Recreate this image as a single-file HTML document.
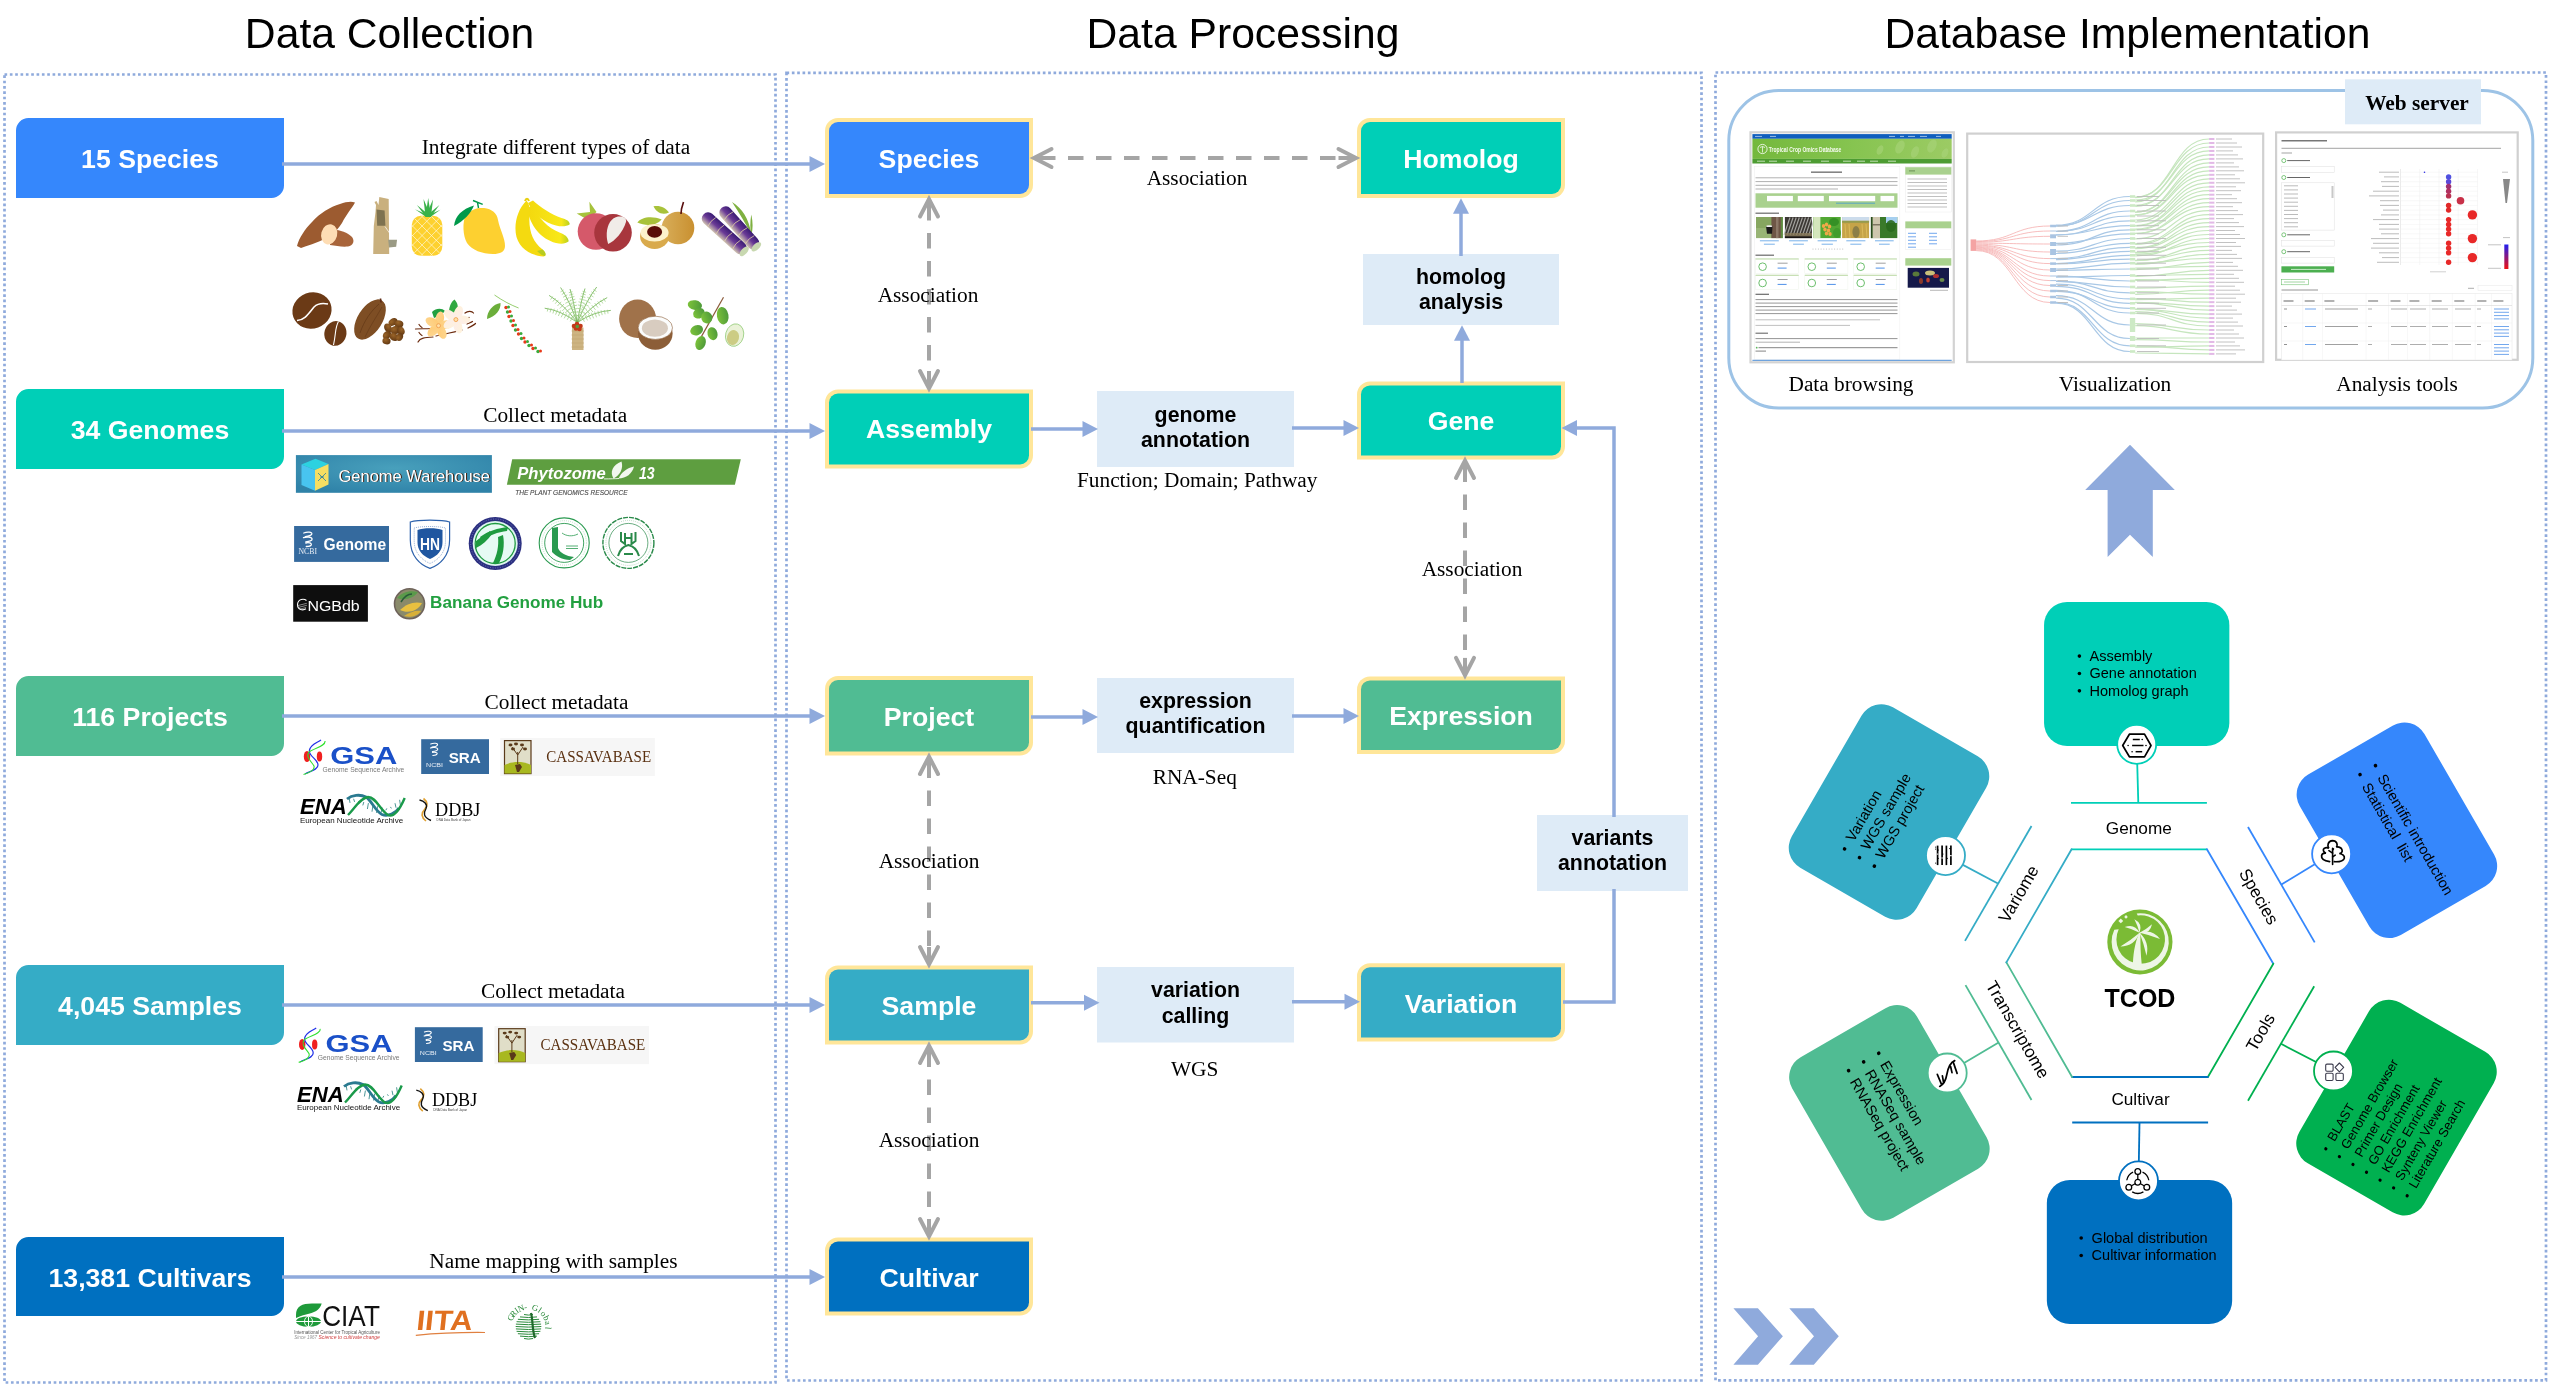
<!DOCTYPE html><html><head><meta charset="utf-8"><style>html,body{margin:0;padding:0;background:#fff;width:2554px;height:1392px;overflow:hidden;}svg{display:block;will-change:transform;}</style></head><body><svg width="2554" height="1392" viewBox="0 0 2554 1392">
<rect width="2554" height="1392" fill="#fff"/>
<text x="389.5" y="47.8" font-family="'Liberation Sans', sans-serif" font-size="42.67" font-weight="normal" fill="#000" text-anchor="middle" >Data Collection</text>
<text x="1243" y="47.8" font-family="'Liberation Sans', sans-serif" font-size="42.67" font-weight="normal" fill="#000" text-anchor="middle" >Data Processing</text>
<text x="2127.5" y="48.3" font-family="'Liberation Sans', sans-serif" font-size="42.67" font-weight="normal" fill="#000" text-anchor="middle" >Database Implementation</text>
<rect x="4.5" y="74.5" width="771.0" height="1308.0" fill="none" stroke="#8FAADC" stroke-width="2.7" stroke-dasharray="2.67 2.67"/>
<path d="M16,130.5 A12.5,12.5 0 0 1 28.5,118 L284,118 L284,185.5 A12.5,12.5 0 0 1 271.5,198 L16,198 Z" fill="#3587FC"/>
<text x="150" y="168" font-family="'Liberation Sans', sans-serif" font-size="26.67" font-weight="bold" fill="#fff" text-anchor="middle" >15 Species</text>
<line x1="282" y1="164" x2="810.5" y2="164" stroke="#8FAADC" stroke-width="3.5"/>
<polygon points="825,164 809.5,156 809.5,172" fill="#8FAADC"/>
<text x="556" y="153.5" font-family="'Liberation Serif', serif" font-size="21.33" font-weight="normal" fill="#000" text-anchor="middle" >Integrate different types of data</text>
<path d="M16,401.5 A12.5,12.5 0 0 1 28.5,389 L284,389 L284,456.5 A12.5,12.5 0 0 1 271.5,469 L16,469 Z" fill="#00CFB7"/>
<text x="150" y="438.7" font-family="'Liberation Sans', sans-serif" font-size="26.67" font-weight="bold" fill="#fff" text-anchor="middle" >34 Genomes</text>
<line x1="282" y1="431" x2="810.5" y2="431" stroke="#8FAADC" stroke-width="3.5"/>
<polygon points="825,431 809.5,423 809.5,439" fill="#8FAADC"/>
<text x="555.2" y="421.7" font-family="'Liberation Serif', serif" font-size="21.33" font-weight="normal" fill="#000" text-anchor="middle" >Collect metadata</text>
<path d="M16,688.5 A12.5,12.5 0 0 1 28.5,676 L284,676 L284,743.5 A12.5,12.5 0 0 1 271.5,756 L16,756 Z" fill="#50BC93"/>
<text x="150" y="725.8" font-family="'Liberation Sans', sans-serif" font-size="26.67" font-weight="bold" fill="#fff" text-anchor="middle" >116 Projects</text>
<line x1="282" y1="716" x2="810.5" y2="716" stroke="#8FAADC" stroke-width="3.5"/>
<polygon points="825,716 809.5,708 809.5,724" fill="#8FAADC"/>
<text x="556.5" y="708.6" font-family="'Liberation Serif', serif" font-size="21.33" font-weight="normal" fill="#000" text-anchor="middle" >Collect metadata</text>
<path d="M16,977.5 A12.5,12.5 0 0 1 28.5,965 L284,965 L284,1032.5 A12.5,12.5 0 0 1 271.5,1045 L16,1045 Z" fill="#35ACC6"/>
<text x="150" y="1014.9" font-family="'Liberation Sans', sans-serif" font-size="26.67" font-weight="bold" fill="#fff" text-anchor="middle" >4,045 Samples</text>
<line x1="282" y1="1005" x2="810.5" y2="1005" stroke="#8FAADC" stroke-width="3.5"/>
<polygon points="825,1005 809.5,997 809.5,1013" fill="#8FAADC"/>
<text x="553" y="997.6" font-family="'Liberation Serif', serif" font-size="21.33" font-weight="normal" fill="#000" text-anchor="middle" >Collect metadata</text>
<path d="M16,1249.5 A12.5,12.5 0 0 1 28.5,1237 L284,1237 L284,1303.5 A12.5,12.5 0 0 1 271.5,1316 L16,1316 Z" fill="#0070C0"/>
<text x="150" y="1287" font-family="'Liberation Sans', sans-serif" font-size="26.67" font-weight="bold" fill="#fff" text-anchor="middle" >13,381 Cultivars</text>
<line x1="282" y1="1277" x2="810.5" y2="1277" stroke="#8FAADC" stroke-width="3.5"/>
<polygon points="825,1277 809.5,1269 809.5,1285" fill="#8FAADC"/>
<text x="553.4" y="1267.6" font-family="'Liberation Serif', serif" font-size="21.33" font-weight="normal" fill="#000" text-anchor="middle" >Name mapping with samples</text>
<path d="M297,246 C299,238 305,229 312,222 C320,213 330,207 340,204 C346,202 351,201 355,202.5 C352,208 346,215 342,223 C339,228 335,232 330,236 C322,241 310,245 301,248 Z" fill="#9C5B30"/>
<path d="M330,230 C338,229 347,232 352,237 C355,241 353,246 348,246.5 C342,247 336,246 330,245 Z" fill="#A8643A"/>
<ellipse cx="329.2" cy="234.3" rx="8" ry="10.2" transform="rotate(15 329.2 234.3)" fill="#FEDDB4"/>
<path d="M373.2,254 L373.8,226 L375.5,212 L376,205 L374.5,202 L376.5,201 L378.5,205 L379.3,197 L388.7,198.9 L389.2,254 Z" fill="#C9B07E"/>
<path d="M376.5,209.5 L384.6,210.6 L385.4,225.8 L377.2,225.8 Z" fill="#7E7250"/>
<path d="M385,226.5 L389.5,233 L394,239.5" stroke="#fff" stroke-width="0.7" fill="none"/>
<path d="M388.2,239.8 L397,239.8 L396.2,246.8 L389,247.4 Z" fill="#9A9A84"/>
<rect x="411.8" y="215.8" width="30.5" height="40" rx="9" fill="#FDD12F"/>
<clipPath id="pa"><rect x="411.8" y="215.8" width="30.5" height="40" rx="9"/></clipPath>
<g clip-path="url(#pa)" stroke="#FFF8D8" stroke-width="0.7"><line x1="364.3" y1="215.8" x2="404.3" y2="255.8"/><line x1="394.3" y1="215.8" x2="354.3" y2="255.8"/><line x1="373.8" y1="215.8" x2="413.8" y2="255.8"/><line x1="403.8" y1="215.8" x2="363.8" y2="255.8"/><line x1="383.3" y1="215.8" x2="423.3" y2="255.8"/><line x1="413.3" y1="215.8" x2="373.3" y2="255.8"/><line x1="392.8" y1="215.8" x2="432.8" y2="255.8"/><line x1="422.8" y1="215.8" x2="382.8" y2="255.8"/><line x1="402.3" y1="215.8" x2="442.3" y2="255.8"/><line x1="432.3" y1="215.8" x2="392.3" y2="255.8"/><line x1="411.8" y1="215.8" x2="451.8" y2="255.8"/><line x1="441.8" y1="215.8" x2="401.8" y2="255.8"/><line x1="421.3" y1="215.8" x2="461.3" y2="255.8"/><line x1="451.3" y1="215.8" x2="411.3" y2="255.8"/><line x1="430.8" y1="215.8" x2="470.8" y2="255.8"/><line x1="460.8" y1="215.8" x2="420.8" y2="255.8"/><line x1="440.3" y1="215.8" x2="480.3" y2="255.8"/><line x1="470.3" y1="215.8" x2="430.3" y2="255.8"/><line x1="449.8" y1="215.8" x2="489.8" y2="255.8"/><line x1="479.8" y1="215.8" x2="439.8" y2="255.8"/><line x1="459.3" y1="215.8" x2="499.3" y2="255.8"/><line x1="489.3" y1="215.8" x2="449.3" y2="255.8"/><line x1="468.8" y1="215.8" x2="508.8" y2="255.8"/><line x1="498.8" y1="215.8" x2="458.8" y2="255.8"/></g>
<polygon points="425.5,216.5 415.0,209.3 431.0,216.5" fill="#3AB24A" />
<polygon points="425.5,216.5 416.9,205.0 431.0,216.5" fill="#3AB24A" />
<polygon points="425.5,216.5 423.5,198.9 431.0,216.5" fill="#3AB24A" />
<polygon points="425.5,216.5 428.2,198.0 431.0,216.5" fill="#3AB24A" />
<polygon points="425.5,216.5 433.0,199.4 431.0,216.5" fill="#3AB24A" />
<polygon points="425.5,216.5 439.4,205.0 431.0,216.5" fill="#3AB24A" />
<polygon points="425.5,216.5 440.4,209.7 431.0,216.5" fill="#3AB24A" />
<path d="M466,214.5 C472,209 478,207.5 484,208 C492,209 497,213 498,220 C500,230 505,238 505,246 C505,252 500,254 493,254 C482,254 472,250 467,243 C463,236 462,222 466,214.5 Z" fill="#FDD030"/>
<path d="M454,226 C455,216 462,209 474,205.5 C471,213 464,221 454,226 Z" fill="#00994A"/>
<path d="M473,200.5 L482.7,204.3 M477.5,202.5 L478.5,208" stroke="#00994A" stroke-width="1.4" fill="none"/>
<defs><linearGradient id="bnn" x1="0" x2="1" y1="0" y2="0"><stop offset="0" stop-color="#F3D80E"/><stop offset="0.8" stop-color="#F8E818"/><stop offset="1" stop-color="#B8D020"/></linearGradient></defs>
<path d="M528,203 C534,215 545,222.5 556,225.5 C562,227 566.5,226.5 569.8,224.2 C569.5,220.5 566,219.5 561.5,218 C551,214 541,208 533,200.5 Z" fill="url(#bnn)"/>
<path d="M527,208 C530,226 541,239 556,243 C562,244.5 566,243.5 568.7,241.2 C568.2,236.5 564.5,234.5 559.5,232.5 C548,228 539,219 533,205 Z" fill="url(#bnn)"/>
<path d="M526.5,200.5 C517,210 513.5,225 516.5,237 C520,249 531,255.5 543.5,256.5 C546.5,256 546,252.5 542,249 C533,242 528.5,231 529.5,216 C530,209 529.5,204 526.5,200.5 Z" fill="#F4DA10"/>
<path d="M537,251 C540,254 543,256 545,256 C546.5,254 545,251.5 542.5,249.5 Z" fill="#B8CC20"/>
<path d="M525,201 C526,198 528,198 529,201" stroke="#E8D010" stroke-width="2" fill="none"/>
<polygon points="576.7,213.4 590.0,212.0 589.4,201.7 596.5,211.9 588.0,220.0" fill="#A6C23C" />
<circle cx="596" cy="231.5" r="18.3" fill="#D5596A"/>
<circle cx="613" cy="232.8" r="18.8" fill="#A8363D"/>
<path d="M618,216.5 C623,216 627,218 626,222 C623,232 615,241 608.2,244 C606,238 606,228 610,222 C612,219 615,217 618,216.5 Z" fill="#F1ECE8"/>
<path d="M637.3,222.6 C641,217 652,215.5 661.7,219.5 C656,226 646,226.5 637.3,222.6 Z" fill="#A8C23A"/>
<path d="M653.5,206.3 C660,205 666,208 669,212.5 C662,216 656,212 653.5,206.3 Z" fill="#A8C23A"/>
<defs><linearGradient id="lg" x1="0" x2="1"><stop offset="0" stop-color="#D8AE5A"/><stop offset="1" stop-color="#C99030"/></linearGradient></defs>
<circle cx="678" cy="228" r="16.3" fill="url(#lg)"/>
<path d="M683.5,202 L681.5,209 L681,214" stroke="#5A1010" stroke-width="1.6" fill="none"/>
<ellipse cx="654.6" cy="236.5" rx="14.5" ry="12.5" fill="#D9AA4C"/>
<ellipse cx="654.6" cy="232.8" rx="14" ry="8.8" fill="#FCF2CC"/>
<ellipse cx="654.6" cy="231.9" rx="7.5" ry="5.8" fill="#5A0E08"/>
<defs><linearGradient id="sg" x1="0" x2="0" y1="0" y2="1"><stop offset="0" stop-color="#3A1C74"/><stop offset="0.5" stop-color="#6A3A96"/><stop offset="1" stop-color="#CFC2B0"/></linearGradient></defs>
<path d="M732,202 C742,208 749,219 751.3,233.8 C746,225 740,214 732,202 Z" fill="#7EB040"/>
<path d="M751.3,214.4 C753,222 753,229 751.3,236 C750,229 750,221 751.3,214.4 Z" fill="#7EB040"/>
<g transform="translate(703.5,214.5) rotate(42.1)"><rect x="0" y="-6.3" width="55.9" height="12.6" rx="6" fill="url(#sg)" transform="rotate(0)"/><path d="M11.2,-6 Q9.2,0 11.2,6" stroke="#E8D8A8" stroke-width="0.7" fill="none"/><path d="M22.4,-6 Q20.4,0 22.4,6" stroke="#E8D8A8" stroke-width="0.7" fill="none"/><path d="M33.6,-6 Q31.6,0 33.6,6" stroke="#E8D8A8" stroke-width="0.7" fill="none"/><path d="M44.7,-6 Q42.7,0 44.7,6" stroke="#E8D8A8" stroke-width="0.7" fill="none"/><ellipse cx="54.9" cy="0" rx="3" ry="6" fill="#C8D8B0"/></g>
<g transform="translate(721.5,208) rotate(48.1)"><rect x="0" y="-6.3" width="53.1" height="12.6" rx="6" fill="url(#sg)" transform="rotate(0)"/><path d="M10.6,-6 Q8.6,0 10.6,6" stroke="#E8D8A8" stroke-width="0.7" fill="none"/><path d="M21.2,-6 Q19.2,0 21.2,6" stroke="#E8D8A8" stroke-width="0.7" fill="none"/><path d="M31.9,-6 Q29.9,0 31.9,6" stroke="#E8D8A8" stroke-width="0.7" fill="none"/><path d="M42.5,-6 Q40.5,0 42.5,6" stroke="#E8D8A8" stroke-width="0.7" fill="none"/><ellipse cx="52.1" cy="0" rx="3" ry="6" fill="#C8D8B0"/></g>
<ellipse cx="312" cy="310.5" rx="19.8" ry="18" transform="rotate(-20 312 310.5)" fill="#6B3A16"/>
<path d="M297,320.5 C305,320 309,313 314,307 C318,303 323,303 328,304" stroke="#fff" stroke-width="1.6" fill="none"/>
<ellipse cx="335.4" cy="333.4" rx="11" ry="12.4" transform="rotate(15 335.4 333.4)" fill="#6B3A16"/>
<path d="M338.5,321.5 C335,327 336,334 333.5,345" stroke="#fff" stroke-width="1.1" fill="none"/>
<defs><radialGradient id="cb1" cx="0.35" cy="0.35" r="0.8"><stop offset="0" stop-color="#9A6428"/><stop offset="1" stop-color="#5A3210"/></radialGradient></defs>
<ellipse cx="370" cy="319.5" rx="12.3" ry="22.5" transform="rotate(32 370 319.5)" fill="#7E4E24"/>
<path d="M360,333 C364,321 371,311 379,304" stroke="#5E3414" stroke-width="0.6" fill="none"/>
<path d="M365,337 C370,326 377,316 382,307" stroke="#5E3414" stroke-width="0.5" fill="none"/>
<path d="M380.5,298.5 L381,302.5" stroke="#5E2A14" stroke-width="1.6"/>
<ellipse cx="393" cy="322" rx="4.8" ry="3.6" transform="rotate(-30 393 322)" fill="url(#cb1)"/>
<ellipse cx="399" cy="324" rx="4.4" ry="3.6" transform="rotate(20 399 324)" fill="url(#cb1)"/>
<ellipse cx="388" cy="328" rx="4.8" ry="3.6" transform="rotate(60 388 328)" fill="url(#cb1)"/>
<ellipse cx="395.5" cy="330" rx="5.1" ry="4.0" transform="rotate(-10 395.5 330)" fill="url(#cb1)"/>
<ellipse cx="401" cy="331" rx="4.2" ry="3.6" transform="rotate(70 401 331)" fill="url(#cb1)"/>
<ellipse cx="387" cy="335" rx="4.6" ry="3.6" transform="rotate(-40 387 335)" fill="url(#cb1)"/>
<ellipse cx="394" cy="337" rx="4.9" ry="3.8" transform="rotate(30 394 337)" fill="url(#cb1)"/>
<ellipse cx="399.5" cy="337" rx="4.0" ry="3.4" transform="rotate(-60 399.5 337)" fill="url(#cb1)"/>
<ellipse cx="386.5" cy="341" rx="4.1" ry="3.4" transform="rotate(10 386.5 341)" fill="url(#cb1)"/>
<g stroke="#6B2A0E" stroke-width="1.2" fill="none" stroke-linecap="round"><path d="M415.5,329 C420,328.5 425,329 431,328.5"/><path d="M419,324.5 C420,326 421,327 422,327.5"/><path d="M419,332.5 C420,334 421,335 422,335.5"/><path d="M418,342 C420,338 425,337.5 433,337"/><path d="M436,336 C445,334 455,332 462,330"/><path d="M465,313 C468,310.5 472,311 473.5,313"/><path d="M463,320 C466,319.5 468,318.5 469,317.5"/><path d="M467,324 C469,323 471,322.5 472.5,321.5"/><path d="M468,328 C471,326.5 474,325 475.5,323.5"/></g>
<defs><linearGradient id="vp1" x1="0" x2="1" y1="0" y2="1"><stop offset="0" stop-color="#FDD894"/><stop offset="1" stop-color="#FFC870"/></linearGradient><linearGradient id="vp2" x1="0" x2="1" y1="0" y2="1"><stop offset="0" stop-color="#FFF3D8"/><stop offset="1" stop-color="#FCECEC"/></linearGradient></defs>
<path d="M432,312 C436,308 442,308 445,311 C442,315 437,317 434,318 Z" fill="#22A040"/>
<path d="M449,312 C449,306 452,301 454.5,299.5 C458,303 459,308 456,313 Z" fill="#30A840"/>
<ellipse cx="439.7" cy="318.8" rx="4.3" ry="7.3" transform="rotate(10.0 439.7 318.8)" fill="url(#vp1)"/>
<ellipse cx="445.4" cy="324.7" rx="4.3" ry="7.3" transform="rotate(82.0 445.4 324.7)" fill="url(#vp1)"/>
<ellipse cx="441.6" cy="332.0" rx="4.3" ry="7.3" transform="rotate(154.0 441.6 332.0)" fill="url(#vp1)"/>
<ellipse cx="433.5" cy="330.6" rx="4.3" ry="7.3" transform="rotate(226.0 433.5 330.6)" fill="url(#vp1)"/>
<ellipse cx="432.3" cy="322.4" rx="4.3" ry="7.3" transform="rotate(298.0 432.3 322.4)" fill="url(#vp1)"/>
<circle cx="438.5" cy="325.7" r="2" fill="#FFE0A8" stroke="#F2A050" stroke-width="0.9"/>
<ellipse cx="458.3" cy="313.0" rx="4.3" ry="7.3" transform="rotate(20.0 458.3 313.0)" fill="url(#vp2)"/>
<ellipse cx="462.9" cy="319.8" rx="4.3" ry="7.3" transform="rotate(92.0 462.9 319.8)" fill="url(#vp2)"/>
<ellipse cx="457.8" cy="326.3" rx="4.3" ry="7.3" transform="rotate(164.0 457.8 326.3)" fill="url(#vp2)"/>
<ellipse cx="450.1" cy="323.5" rx="4.3" ry="7.3" transform="rotate(236.0 450.1 323.5)" fill="url(#vp2)"/>
<ellipse cx="450.4" cy="315.3" rx="4.3" ry="7.3" transform="rotate(308.0 450.4 315.3)" fill="url(#vp2)"/>
<circle cx="455.9" cy="319.6" r="2" fill="#FFE0A8" stroke="#F2A050" stroke-width="0.9"/>
<path d="M487,319 C487,311 493,304 500.5,303 C501,310 496,316 487,319 Z" fill="#6BAE3A"/>
<path d="M494.5,295 C503,301 511,305 518.6,308" stroke="#7CC04A" stroke-width="0.8" fill="none"/>
<circle cx="506" cy="307.5" r="1.7" fill="#E83A1A"/>
<circle cx="508.5" cy="307.0" r="1.5" fill="#3AAA3A"/>
<circle cx="507.5" cy="312" r="1.7" fill="#3AAA3A"/>
<circle cx="510.0" cy="311.5" r="1.5" fill="#E83A1A"/>
<circle cx="509" cy="316.5" r="1.7" fill="#E83A1A"/>
<circle cx="511.5" cy="316.0" r="1.5" fill="#3AAA3A"/>
<circle cx="511" cy="321" r="1.7" fill="#3AAA3A"/>
<circle cx="513.5" cy="320.5" r="1.5" fill="#E83A1A"/>
<circle cx="513" cy="325.5" r="1.7" fill="#E83A1A"/>
<circle cx="515.5" cy="325.0" r="1.5" fill="#3AAA3A"/>
<circle cx="515.5" cy="330" r="1.7" fill="#3AAA3A"/>
<circle cx="518.0" cy="329.5" r="1.5" fill="#E83A1A"/>
<circle cx="518.5" cy="334" r="1.7" fill="#E83A1A"/>
<circle cx="521.0" cy="333.5" r="1.5" fill="#3AAA3A"/>
<circle cx="521.5" cy="338.5" r="1.7" fill="#3AAA3A"/>
<circle cx="524.0" cy="338.0" r="1.5" fill="#E83A1A"/>
<circle cx="525" cy="342" r="1.7" fill="#E83A1A"/>
<circle cx="527.5" cy="341.5" r="1.5" fill="#3AAA3A"/>
<circle cx="529" cy="345.5" r="1.7" fill="#3AAA3A"/>
<circle cx="531.5" cy="345.0" r="1.5" fill="#E83A1A"/>
<circle cx="533" cy="348.5" r="1.7" fill="#E83A1A"/>
<circle cx="535.5" cy="348.0" r="1.5" fill="#3AAA3A"/>
<circle cx="538" cy="351.5" r="1.7" fill="#3AAA3A"/>
<circle cx="540.5" cy="351.0" r="1.5" fill="#E83A1A"/>
<rect x="572" y="327.6" width="11.5" height="22.4" fill="#CDB482"/>
<line x1="571.5" y1="331" x2="584" y2="331" stroke="#BFA670" stroke-width="0.6"/>
<line x1="571.5" y1="335" x2="584" y2="335" stroke="#BFA670" stroke-width="0.6"/>
<line x1="571.5" y1="339" x2="584" y2="339" stroke="#BFA670" stroke-width="0.6"/>
<line x1="571.5" y1="343" x2="584" y2="343" stroke="#BFA670" stroke-width="0.6"/>
<line x1="571.5" y1="347" x2="584" y2="347" stroke="#BFA670" stroke-width="0.6"/>
<path d="M577.3,322.5 Q561.0,310.4 544.7,308.2" stroke="#6AAE4A" stroke-width="0.8" fill="none"/>
<line x1="570.2" y1="321.3" x2="572.5" y2="317.6" stroke="#9ACE80" stroke-width="0.7"/>
<line x1="567.2" y1="319.8" x2="569.6" y2="315.5" stroke="#9ACE80" stroke-width="0.7"/>
<line x1="564.2" y1="318.4" x2="566.7" y2="313.5" stroke="#9ACE80" stroke-width="0.7"/>
<line x1="561.2" y1="317.3" x2="563.8" y2="311.8" stroke="#9ACE80" stroke-width="0.7"/>
<line x1="558.4" y1="316.0" x2="560.7" y2="310.4" stroke="#9ACE80" stroke-width="0.7"/>
<line x1="555.6" y1="314.7" x2="557.5" y2="309.5" stroke="#9ACE80" stroke-width="0.7"/>
<line x1="552.9" y1="313.5" x2="554.3" y2="308.7" stroke="#9ACE80" stroke-width="0.7"/>
<line x1="550.1" y1="312.4" x2="551.1" y2="308.2" stroke="#9ACE80" stroke-width="0.7"/>
<line x1="547.3" y1="311.5" x2="548.0" y2="307.8" stroke="#9ACE80" stroke-width="0.7"/>
<path d="M577.3,322.5 Q563.2,303.9 549.1,295.4" stroke="#6AAE4A" stroke-width="0.8" fill="none"/>
<line x1="570.5" y1="318.5" x2="573.8" y2="315.7" stroke="#9ACE80" stroke-width="0.7"/>
<line x1="567.8" y1="315.8" x2="571.5" y2="312.5" stroke="#9ACE80" stroke-width="0.7"/>
<line x1="565.0" y1="313.2" x2="569.1" y2="309.4" stroke="#9ACE80" stroke-width="0.7"/>
<line x1="562.3" y1="310.9" x2="566.6" y2="306.5" stroke="#9ACE80" stroke-width="0.7"/>
<line x1="559.8" y1="308.5" x2="564.0" y2="304.0" stroke="#9ACE80" stroke-width="0.7"/>
<line x1="557.5" y1="306.0" x2="561.2" y2="301.8" stroke="#9ACE80" stroke-width="0.7"/>
<line x1="555.2" y1="303.7" x2="558.3" y2="299.9" stroke="#9ACE80" stroke-width="0.7"/>
<line x1="552.9" y1="301.6" x2="555.5" y2="298.1" stroke="#9ACE80" stroke-width="0.7"/>
<line x1="550.6" y1="299.6" x2="552.7" y2="296.5" stroke="#9ACE80" stroke-width="0.7"/>
<path d="M577.3,322.5 Q569.0,300.0 560.6,287.5" stroke="#6AAE4A" stroke-width="0.8" fill="none"/>
<line x1="572.2" y1="316.5" x2="576.3" y2="314.8" stroke="#9ACE80" stroke-width="0.7"/>
<line x1="570.5" y1="312.9" x2="575.0" y2="311.0" stroke="#9ACE80" stroke-width="0.7"/>
<line x1="568.7" y1="309.6" x2="573.8" y2="307.3" stroke="#9ACE80" stroke-width="0.7"/>
<line x1="566.9" y1="306.4" x2="572.5" y2="303.8" stroke="#9ACE80" stroke-width="0.7"/>
<line x1="565.4" y1="303.3" x2="570.9" y2="300.6" stroke="#9ACE80" stroke-width="0.7"/>
<line x1="564.2" y1="300.2" x2="569.1" y2="297.6" stroke="#9ACE80" stroke-width="0.7"/>
<line x1="563.0" y1="297.3" x2="567.3" y2="294.9" stroke="#9ACE80" stroke-width="0.7"/>
<line x1="561.8" y1="294.5" x2="565.5" y2="292.3" stroke="#9ACE80" stroke-width="0.7"/>
<line x1="560.5" y1="291.9" x2="563.7" y2="289.9" stroke="#9ACE80" stroke-width="0.7"/>
<path d="M577.3,322.5 Q587.0,299.8 596.7,287" stroke="#6AAE4A" stroke-width="0.8" fill="none"/>
<line x1="578.8" y1="314.6" x2="582.8" y2="316.5" stroke="#9ACE80" stroke-width="0.7"/>
<line x1="580.4" y1="310.8" x2="584.8" y2="312.9" stroke="#9ACE80" stroke-width="0.7"/>
<line x1="581.9" y1="307.0" x2="586.8" y2="309.5" stroke="#9ACE80" stroke-width="0.7"/>
<line x1="583.4" y1="303.4" x2="588.8" y2="306.3" stroke="#9ACE80" stroke-width="0.7"/>
<line x1="585.2" y1="300.2" x2="590.5" y2="303.2" stroke="#9ACE80" stroke-width="0.7"/>
<line x1="587.3" y1="297.2" x2="592.0" y2="300.0" stroke="#9ACE80" stroke-width="0.7"/>
<line x1="589.3" y1="294.4" x2="593.5" y2="297.0" stroke="#9ACE80" stroke-width="0.7"/>
<line x1="591.4" y1="291.8" x2="595.0" y2="294.2" stroke="#9ACE80" stroke-width="0.7"/>
<line x1="593.4" y1="289.3" x2="596.5" y2="291.5" stroke="#9ACE80" stroke-width="0.7"/>
<path d="M577.3,322.5 Q592.2,305.1 607.2,297.6" stroke="#6AAE4A" stroke-width="0.8" fill="none"/>
<line x1="581.2" y1="316.0" x2="584.3" y2="319.0" stroke="#9ACE80" stroke-width="0.7"/>
<line x1="583.7" y1="313.0" x2="587.2" y2="316.5" stroke="#9ACE80" stroke-width="0.7"/>
<line x1="586.3" y1="310.1" x2="590.0" y2="314.2" stroke="#9ACE80" stroke-width="0.7"/>
<line x1="588.9" y1="307.4" x2="592.9" y2="312.0" stroke="#9ACE80" stroke-width="0.7"/>
<line x1="591.7" y1="305.1" x2="595.5" y2="309.8" stroke="#9ACE80" stroke-width="0.7"/>
<line x1="594.7" y1="303.1" x2="598.0" y2="307.6" stroke="#9ACE80" stroke-width="0.7"/>
<line x1="597.7" y1="301.4" x2="600.4" y2="305.5" stroke="#9ACE80" stroke-width="0.7"/>
<line x1="600.6" y1="299.8" x2="602.9" y2="303.5" stroke="#9ACE80" stroke-width="0.7"/>
<line x1="603.6" y1="298.4" x2="605.4" y2="301.7" stroke="#9ACE80" stroke-width="0.7"/>
<path d="M577.3,322.5 Q594.0,311.4 610.8,310.4" stroke="#6AAE4A" stroke-width="0.8" fill="none"/>
<line x1="582.3" y1="317.9" x2="584.4" y2="321.7" stroke="#9ACE80" stroke-width="0.7"/>
<line x1="585.3" y1="316.0" x2="587.5" y2="320.4" stroke="#9ACE80" stroke-width="0.7"/>
<line x1="588.4" y1="314.3" x2="590.6" y2="319.3" stroke="#9ACE80" stroke-width="0.7"/>
<line x1="591.4" y1="312.7" x2="593.6" y2="318.4" stroke="#9ACE80" stroke-width="0.7"/>
<line x1="594.6" y1="311.5" x2="596.5" y2="317.3" stroke="#9ACE80" stroke-width="0.7"/>
<line x1="597.9" y1="310.8" x2="599.4" y2="316.1" stroke="#9ACE80" stroke-width="0.7"/>
<line x1="601.1" y1="310.3" x2="602.2" y2="315.1" stroke="#9ACE80" stroke-width="0.7"/>
<line x1="604.3" y1="310.0" x2="605.1" y2="314.3" stroke="#9ACE80" stroke-width="0.7"/>
<line x1="607.5" y1="309.8" x2="608.0" y2="313.6" stroke="#9ACE80" stroke-width="0.7"/>
<path d="M577.3,322.5 Q573.6,300.8 570,289" stroke="#6AAE4A" stroke-width="0.8" fill="none"/>
<line x1="573.8" y1="316.3" x2="578.1" y2="315.5" stroke="#9ACE80" stroke-width="0.7"/>
<line x1="572.9" y1="312.8" x2="577.7" y2="311.9" stroke="#9ACE80" stroke-width="0.7"/>
<line x1="571.9" y1="309.6" x2="577.4" y2="308.5" stroke="#9ACE80" stroke-width="0.7"/>
<line x1="571.0" y1="306.4" x2="577.0" y2="305.2" stroke="#9ACE80" stroke-width="0.7"/>
<line x1="570.3" y1="303.4" x2="576.3" y2="302.1" stroke="#9ACE80" stroke-width="0.7"/>
<line x1="570.0" y1="300.5" x2="575.3" y2="299.2" stroke="#9ACE80" stroke-width="0.7"/>
<line x1="569.6" y1="297.8" x2="574.4" y2="296.5" stroke="#9ACE80" stroke-width="0.7"/>
<line x1="569.2" y1="295.2" x2="573.4" y2="294.0" stroke="#9ACE80" stroke-width="0.7"/>
<line x1="568.8" y1="292.7" x2="572.5" y2="291.7" stroke="#9ACE80" stroke-width="0.7"/>
<path d="M577.3,322.5 Q581.1,300.5 585,288.5" stroke="#6AAE4A" stroke-width="0.8" fill="none"/>
<line x1="576.6" y1="315.4" x2="580.8" y2="316.2" stroke="#9ACE80" stroke-width="0.7"/>
<line x1="577.0" y1="311.8" x2="581.8" y2="312.7" stroke="#9ACE80" stroke-width="0.7"/>
<line x1="577.4" y1="308.3" x2="582.8" y2="309.4" stroke="#9ACE80" stroke-width="0.7"/>
<line x1="577.8" y1="304.9" x2="583.8" y2="306.2" stroke="#9ACE80" stroke-width="0.7"/>
<line x1="578.5" y1="301.8" x2="584.5" y2="303.2" stroke="#9ACE80" stroke-width="0.7"/>
<line x1="579.5" y1="298.9" x2="584.9" y2="300.2" stroke="#9ACE80" stroke-width="0.7"/>
<line x1="580.5" y1="296.2" x2="585.3" y2="297.4" stroke="#9ACE80" stroke-width="0.7"/>
<line x1="581.5" y1="293.6" x2="585.7" y2="294.8" stroke="#9ACE80" stroke-width="0.7"/>
<line x1="582.5" y1="291.2" x2="586.1" y2="292.3" stroke="#9ACE80" stroke-width="0.7"/>
<circle cx="574" cy="326" r="2.3" fill="#C23A18"/>
<circle cx="577" cy="324" r="2.3" fill="#C23A18"/>
<circle cx="580.5" cy="326" r="2.3" fill="#C23A18"/>
<circle cx="576" cy="328.5" r="2.3" fill="#C23A18"/>
<circle cx="579.5" cy="329" r="2.3" fill="#C23A18"/>
<circle cx="577.3" cy="326.5" r="1.8" fill="#5A9A3A"/>
<ellipse cx="637.6" cy="318.8" rx="18.5" ry="19.2" fill="#A0724A"/>
<ellipse cx="655.3" cy="333.5" rx="17.3" ry="16.3" fill="#8C5E38"/>
<ellipse cx="655.3" cy="327.8" rx="17.2" ry="11.6" fill="#FBFCFC" stroke="#8C5E38" stroke-width="0.6"/>
<ellipse cx="654.9" cy="328.2" rx="13" ry="8.6" fill="#D8CCC0"/>
<path d="M723.5,297.2 L701.5,336.4" stroke="#8B5A3A" stroke-width="1.2"/>
<defs><linearGradient id="lf" x1="0" x2="1"><stop offset="0" stop-color="#7CC23A"/><stop offset="1" stop-color="#4E9A3A"/></linearGradient></defs>
<ellipse cx="694.9" cy="305.1" rx="7.2" ry="4.8" transform="rotate(10 694.9 305.1)" fill="url(#lf)"/>
<ellipse cx="698.9" cy="313.3" rx="6" ry="5" transform="rotate(-30 698.9 313.3)" fill="url(#lf)"/>
<ellipse cx="706.8" cy="317.5" rx="5.5" ry="6" transform="rotate(-20 706.8 317.5)" fill="url(#lf)"/>
<ellipse cx="722.7" cy="315.7" rx="5.8" ry="8.8" transform="rotate(-10 722.7 315.7)" fill="url(#lf)"/>
<ellipse cx="696.7" cy="330.2" rx="6.5" ry="5" transform="rotate(-20 696.7 330.2)" fill="url(#lf)"/>
<ellipse cx="712.5" cy="333.7" rx="5" ry="6.6" transform="rotate(-15 712.5 333.7)" fill="url(#lf)"/>
<ellipse cx="700.6" cy="343" rx="5" ry="7.2" transform="rotate(20 700.6 343)" fill="url(#lf)"/>
<ellipse cx="734.6" cy="335.1" rx="9" ry="11.4" transform="rotate(15 734.6 335.1)" fill="#EAF2D8" stroke="#8CC870" stroke-width="0.7"/>
<ellipse cx="733" cy="337.5" rx="6" ry="7.5" transform="rotate(15 733 337.5)" fill="#CCCC84"/>
<defs><radialGradient id="gw" cx="0.5" cy="0.35" r="0.7"><stop offset="0" stop-color="#48A0BC"/><stop offset="1" stop-color="#2F82A8"/></radialGradient></defs>
<rect x="295.9" y="455.1" width="196" height="37.7" fill="url(#gw)"/>
<polygon points="301.5,464.5 315.5,458.8 328.5,464.0 315.0,470.0" fill="#2CD2E0" />
<polygon points="301.5,464.5 315.0,470.0 315.0,490.8 301.5,485.0" fill="#48C4F0" />
<polygon points="315.0,470.0 328.5,464.0 328.5,484.5 315.0,490.8" fill="#F6DE62" />
<path d="M318,473 L326,481 M326,473 L318,481 M320,477 L324,477" stroke="#2A7FA0" stroke-width="0.8"/>
<text x="339.5" y="482.4" font-family="'Liberation Sans', sans-serif" font-size="16.4" font-weight="normal" font-style="normal" fill="#402010" text-anchor="start" textLength="151.5" lengthAdjust="spacingAndGlyphs" >Genome Warehouse</text>
<text x="338.5" y="481.7" font-family="'Liberation Sans', sans-serif" font-size="16.4" font-weight="normal" font-style="normal" fill="#FFFFFF" text-anchor="start" textLength="151.5" lengthAdjust="spacingAndGlyphs" >Genome Warehouse</text>
<polygon points="512.2,459.3 740.8,459.3 734.9,484.7 506.9,484.7" fill="#5E9E40" />
<text x="517.3" y="478.9" font-family="'Liberation Sans', sans-serif" font-size="17" font-weight="bold" font-style="italic" fill="#fff" text-anchor="start" textLength="88.5" lengthAdjust="spacingAndGlyphs" >Phytozome</text>
<path d="M613.5,478.5 C609.5,472 612.5,465 621.5,461.5 C623.5,468 620.5,475 613.5,478.5 Z" fill="#F2F7EE"/>
<path d="M618.5,478.5 C621.5,472 627,468 634,466.5 C632.5,473.5 626,478.5 618.5,478.5 Z" fill="#F2F7EE"/>
<path d="M604,478.9 C610,478.9 615,478.7 619,478.5" stroke="#F2F7EE" stroke-width="0.9" fill="none"/>
<text x="639" y="479" font-family="'Liberation Sans', sans-serif" font-size="17" font-weight="bold" font-style="italic" fill="#fff" text-anchor="start" textLength="15.7" lengthAdjust="spacingAndGlyphs" >13</text>
<text x="515.2" y="494.5" font-family="'Liberation Sans', sans-serif" font-size="7.6" font-weight="normal" font-style="italic" fill="#505050" text-anchor="start" textLength="112.5" lengthAdjust="spacingAndGlyphs" stroke="#505050" stroke-width="0.15">THE PLANT GENOMICS RESOURCE</text>
<rect x="294.1" y="526" width="94.9" height="35.9" fill="#356A9E"/>
<g transform="translate(307.3,541.5) scale(1.0)" stroke="#fff" stroke-width="1.3" fill="none" stroke-linecap="round"><path d="M-3.5,-8.5 C0,-10 5,-9.5 4.5,-7.5 C4,-6 1,-5.2 -2,-4.8"/><path d="M-3.8,-3.8 C-1,-5 4.5,-4.5 4.8,-2.5 C5,-0.8 2,0 -1.5,0.3"/><path d="M-1.5,1.5 C1,0.8 4.5,1.5 4,3.2 C3.5,4.6 1,5 -1,5"/></g>
<text x="298.5" y="554.3" font-family="'Liberation Serif', serif" font-size="7.6" font-weight="normal" font-style="normal" fill="#E8EEF6" text-anchor="start" textLength="18.5" lengthAdjust="spacingAndGlyphs" >NCBI</text>
<text x="323.6" y="549.8" font-family="'Liberation Sans', sans-serif" font-size="15.6" font-weight="bold" font-style="normal" fill="#fff" text-anchor="start" textLength="62.5" lengthAdjust="spacingAndGlyphs" >Genome</text>
<path d="M410.3,522 C418,519.5 442,519.5 449.6,522 L449.6,540 C449.6,556 440,565 430,568.4 C420,565 410.3,556 410.3,540 Z" fill="#fff" stroke="#2D62AC" stroke-width="1.2"/>
<path d="M414.2,528 C421,526 439,526 445.5,528 L445.5,541 C445.5,553 438,560 430,563.5 C422,560 414.2,553 414.2,541 Z" fill="none" stroke="#2D62AC" stroke-width="0.5" stroke-dasharray="1 1"/>
<path d="M417.5,530 C423,527.5 437,527.5 442.5,530 L442.5,542 C442.5,551 437,556 430,559 C423,556 417.5,551 417.5,542 Z" fill="#1F56A0"/>
<text x="430" y="549.5" font-family="'Liberation Sans', sans-serif" font-size="16.5" font-weight="bold" font-style="normal" fill="#fff" text-anchor="middle" textLength="20" lengthAdjust="spacingAndGlyphs" >HN</text>
<circle cx="495.2" cy="543.5" r="26.5" fill="#2B2F80"/>
<circle cx="495.2" cy="543.5" r="22.5" fill="#DDF6EE"/>
<circle cx="495.2" cy="543.5" r="20" fill="#E6FAF4" stroke="#1E9A40" stroke-width="1.3"/>
<path d="M480,537 C488,531 498,528 508,527 L507,531 C498,532 489,535 482,541 Z" fill="#1E9A40"/>
<path d="M498,537 L503,535 C505,545 503,556 499,563 L493,563 C497,555 499,546 498,537 Z" fill="#1E9A40"/>
<path d="M476,541 C480,538 486,534 490,531 L492,534 C488,540 482,545 476,548 Z" fill="#1E9A40"/>
<circle cx="495.2" cy="543.5" r="24.5" fill="none" stroke="#9AA0D8" stroke-width="0.6" stroke-dasharray="1 1.5"/>
<circle cx="564.2" cy="542.9" r="25" fill="#fff" stroke="#2A9A50" stroke-width="1.1"/>
<circle cx="564.2" cy="542.9" r="19.5" fill="none" stroke="#2A9A50" stroke-width="0.9"/>
<circle cx="564.2" cy="542.9" r="22.2" fill="none" stroke="#7CC890" stroke-width="0.6" stroke-dasharray="0.8 1.2"/>
<path d="M552,528 L558,527 L558,548 C560,553 566,556 574,557 L570,560 C562,560 556,556 552,552 Z" fill="#2A9A50"/>
<path d="M562,533 C566,536 572,537 578,534 M566,546 L578,546 M566,548.5 L578,548.5" stroke="#2A9A50" stroke-width="0.8" fill="none"/>
<circle cx="628.4" cy="542.9" r="25.5" fill="#fff" stroke="#2A8A4A" stroke-width="1.4" stroke-dasharray="5 1"/>
<circle cx="628.4" cy="542.9" r="19.5" fill="none" stroke="#2A8A4A" stroke-width="0.7"/>
<circle cx="628.4" cy="542.9" r="22.5" fill="none" stroke="#7AB88A" stroke-width="0.6" stroke-dasharray="0.8 1.2"/>
<path d="M621,532 L621,541 L625,544 L625,533 M631.5,533 L631.5,544 L635.5,541 L635.5,532 M625,538 L631.5,538 M618,556 C620,549 624,546 628.4,545 C633,546 637,549 639,556 M624,554 L633,554" stroke="#2A8A4A" stroke-width="2" fill="none"/>
<rect x="293.2" y="585.1" width="74.7" height="36.6" fill="#0E0E0E"/>
<path d="M306.5,600.5 C304,598.5 298,598.5 297.5,604.5 C297.5,610 303,610.8 306,608.8" stroke="#fff" stroke-width="1.1" fill="none"/>
<clipPath id="cng"><circle cx="302" cy="604.8" r="5"/></clipPath>
<g clip-path="url(#cng)" stroke="#ddd" stroke-width="0.6"><line x1="296" y1="606" x2="308" y2="603"/><line x1="296" y1="608" x2="308" y2="605"/><line x1="296" y1="610" x2="308" y2="607"/></g>
<text x="307.5" y="611" font-family="'Liberation Sans', sans-serif" font-size="14.5" font-weight="normal" font-style="normal" fill="#fff" text-anchor="start" textLength="52.2" lengthAdjust="spacingAndGlyphs" font-weight="normal">NGBdb</text>
<circle cx="409.5" cy="603.8" r="15.8" fill="#6E625A"/>
<circle cx="409.5" cy="603.8" r="14.2" fill="#8A8A6A"/>
<path d="M397,598 C402,592 410,590 418,592 C414,598 405,601 397,598 Z" fill="#5A9A4A"/>
<path d="M400,610 C406,604 414,601 422,603 C418,611 408,614 400,610 Z" fill="#E8C040"/>
<path d="M404,616 C410,612 416,610 421,611 C418,616 410,618 404,616 Z" fill="#D8B038"/>
<path d="M401,602 C404,597 408,594 412,594" stroke="#2A5A3A" stroke-width="1.5" fill="none"/>
<text x="430.1" y="608.4" font-family="'Liberation Sans', sans-serif" font-size="17" font-weight="bold" font-style="normal" fill="#22A040" text-anchor="start" textLength="173.2" lengthAdjust="spacingAndGlyphs" >Banana Genome Hub</text>
<g transform="translate(0.00,0.00)"><ellipse cx="307" cy="756.5" rx="3.2" ry="5.5" fill="#F02020"/><ellipse cx="319.5" cy="756.5" rx="2.7" ry="5" fill="#F02020"/><path d="M321,740 C317,743 311,744 309.5,750 C308,756 318,759 318,765 C318,770 310,771 305,774" stroke="#2030E8" stroke-width="1.2" fill="none"/><path d="M325,741 C326,746 314,748 309,752 C305,757 312,762 314,766 C315,770 309,773 303.5,774.5" stroke="#30E030" stroke-width="1.1" fill="none"/><text x="330.3" y="763.7" font-family="'Liberation Sans', sans-serif" font-size="24.5" font-weight="bold" font-style="normal" fill="#1A50C8" text-anchor="start" textLength="67" lengthAdjust="spacingAndGlyphs" >GSA</text><text x="322.5" y="771.9" font-family="'Liberation Sans', sans-serif" font-size="7" font-weight="normal" font-style="normal" fill="#7A7A7A" text-anchor="start" textLength="81.8" lengthAdjust="spacingAndGlyphs" >Genome Sequence Archive</text></g>
<rect x="421.2" y="739.2" width="67.8" height="34.8" fill="#356A9E"/><g transform="translate(433.7,751.2) scale(0.85)" stroke="#fff" stroke-width="1.3" fill="none" stroke-linecap="round"><path d="M-3.5,-8.5 C0,-10 5,-9.5 4.5,-7.5 C4,-6 1,-5.2 -2,-4.8"/><path d="M-3.8,-3.8 C-1,-5 4.5,-4.5 4.8,-2.5 C5,-0.8 2,0 -1.5,0.3"/><path d="M-1.5,1.5 C1,0.8 4.5,1.5 4,3.2 C3.5,4.6 1,5 -1,5"/></g><text x="426.09999999999997" y="766.6" font-family="'Liberation Sans', sans-serif" font-size="5.6" font-weight="normal" font-style="normal" fill="#E8EEF6" text-anchor="start" textLength="16.9" lengthAdjust="spacingAndGlyphs" >NCBI</text><text x="448.7" y="762.5" font-family="'Liberation Sans', sans-serif" font-size="15.5" font-weight="bold" font-style="normal" fill="#fff" text-anchor="start" textLength="32.1" lengthAdjust="spacingAndGlyphs" >SRA</text>
<g transform="translate(0.00,0.00)"><rect x="500.3" y="738" width="154.5" height="38" fill="#F6F6F6"/><rect x="504.5" y="740.6" width="26.5" height="33" fill="#E0DEC8" stroke="#5A3A1A" stroke-width="1.2"/><path d="M504.5,765 C512,761 524,761 531,765 L531,773.6 L504.5,773.6 Z" fill="#A8B820"/><path d="M515,765 L520,764 L522,767 L519,772 L517,772 Z" fill="#5A3A1A"/><path d="M517.7,764 L517.7,752 M517.7,755 L512,747 M517.7,755 L523,747" stroke="#5A3A1A" stroke-width="1" fill="none"/><ellipse cx="510.5" cy="745" rx="2" ry="1.4" fill="#5A3A1A"/><ellipse cx="513" cy="749" rx="2" ry="1.4" fill="#5A3A1A"/><ellipse cx="522" cy="745" rx="2" ry="1.4" fill="#5A3A1A"/><ellipse cx="525" cy="749" rx="2" ry="1.4" fill="#5A3A1A"/><ellipse cx="516" cy="744" rx="2" ry="1.4" fill="#5A3A1A"/><text x="546.3" y="762.3" font-family="'Liberation Serif', serif" font-size="16.3" font-weight="normal" font-style="normal" fill="#5A3010" text-anchor="start" textLength="104.8" lengthAdjust="spacingAndGlyphs" >CASSAVABASE</text></g>
<g transform="translate(0.00,0.00)"><text x="299.9" y="814.3" font-family="'Liberation Sans', sans-serif" font-size="22.5" font-weight="bold" font-style="italic" fill="#000" text-anchor="start" textLength="46.8" lengthAdjust="spacingAndGlyphs" >ENA</text><line x1="349.0" y1="797.2" x2="350.0" y2="802.9" stroke="#3A8A8A" stroke-width="0.9"/><line x1="353.6" y1="798.8" x2="354.6" y2="801.9" stroke="#3A8A8A" stroke-width="0.9"/><line x1="358.2" y1="801.8" x2="359.2" y2="801.5" stroke="#3A8A8A" stroke-width="0.9"/><line x1="362.8" y1="805.4" x2="363.8" y2="802.0" stroke="#3A8A8A" stroke-width="0.9"/><line x1="367.4" y1="809.0" x2="368.4" y2="803.1" stroke="#3A8A8A" stroke-width="0.9"/><line x1="372.0" y1="811.7" x2="373.0" y2="804.6" stroke="#3A8A8A" stroke-width="0.9"/><line x1="376.6" y1="813.0" x2="377.6" y2="806.2" stroke="#3A8A8A" stroke-width="0.9"/><line x1="381.2" y1="812.4" x2="382.2" y2="807.6" stroke="#3A8A8A" stroke-width="0.9"/><line x1="385.8" y1="810.3" x2="386.8" y2="808.4" stroke="#3A8A8A" stroke-width="0.9"/><line x1="390.4" y1="806.9" x2="391.4" y2="808.4" stroke="#3A8A8A" stroke-width="0.9"/><line x1="395.0" y1="803.2" x2="396.0" y2="807.7" stroke="#3A8A8A" stroke-width="0.9"/><line x1="399.6" y1="799.8" x2="400.6" y2="806.4" stroke="#3A8A8A" stroke-width="0.9"/><path d="M347,799 C352,795 360,794 366,797 C372,801 375,811 382,814.5 C388,817 396,813 399,808" stroke="#2A7A90" stroke-width="2.8" fill="none"/><path d="M348,815 C355,808 360,798 368,797 C376,797 380,810 388,815 C394,818 400,809 404.7,798" stroke="#1A9A4A" stroke-width="2.4" fill="none"/><text x="299.9" y="822.9" font-family="'Liberation Sans', sans-serif" font-size="7.4" font-weight="normal" font-style="normal" fill="#111" text-anchor="start" textLength="103.2" lengthAdjust="spacingAndGlyphs" >European Nucleotide Archive</text></g>
<g transform="translate(0.00,0.00)"><path d="M423.5,798.5 C428,802 428,806 424.5,809.5 C421,813 421,817 426,821" stroke="#E0A030" stroke-width="1.6" fill="none"/><path d="M419.5,800 C424,801 428,804 426,808.5 C423.5,813 423,817 431,820.5" stroke="#111" stroke-width="1.4" fill="none"/><text x="435.1" y="815.5" font-family="'Liberation Serif', serif" font-size="18.5" font-weight="normal" font-style="normal" fill="#000" text-anchor="start" textLength="45.3" lengthAdjust="spacingAndGlyphs" >DDBJ</text><text x="436.5" y="820.6" font-family="'Liberation Sans', sans-serif" font-size="3" font-weight="normal" font-style="normal" fill="#444" text-anchor="start" textLength="34" lengthAdjust="spacingAndGlyphs" >DNA Data Bank of Japan</text></g>
<g transform="translate(-4.80,287.90)"><ellipse cx="307" cy="756.5" rx="3.2" ry="5.5" fill="#F02020"/><ellipse cx="319.5" cy="756.5" rx="2.7" ry="5" fill="#F02020"/><path d="M321,740 C317,743 311,744 309.5,750 C308,756 318,759 318,765 C318,770 310,771 305,774" stroke="#2030E8" stroke-width="1.2" fill="none"/><path d="M325,741 C326,746 314,748 309,752 C305,757 312,762 314,766 C315,770 309,773 303.5,774.5" stroke="#30E030" stroke-width="1.1" fill="none"/><text x="330.3" y="763.7" font-family="'Liberation Sans', sans-serif" font-size="24.5" font-weight="bold" font-style="normal" fill="#1A50C8" text-anchor="start" textLength="67" lengthAdjust="spacingAndGlyphs" >GSA</text><text x="322.5" y="771.9" font-family="'Liberation Sans', sans-serif" font-size="7" font-weight="normal" font-style="normal" fill="#7A7A7A" text-anchor="start" textLength="81.8" lengthAdjust="spacingAndGlyphs" >Genome Sequence Archive</text></g>
<rect x="414.9" y="1027.2" width="67.8" height="34.8" fill="#356A9E"/><g transform="translate(427.4,1039.2) scale(0.85)" stroke="#fff" stroke-width="1.3" fill="none" stroke-linecap="round"><path d="M-3.5,-8.5 C0,-10 5,-9.5 4.5,-7.5 C4,-6 1,-5.2 -2,-4.8"/><path d="M-3.8,-3.8 C-1,-5 4.5,-4.5 4.8,-2.5 C5,-0.8 2,0 -1.5,0.3"/><path d="M-1.5,1.5 C1,0.8 4.5,1.5 4,3.2 C3.5,4.6 1,5 -1,5"/></g><text x="419.79999999999995" y="1054.6000000000001" font-family="'Liberation Sans', sans-serif" font-size="5.6" font-weight="normal" font-style="normal" fill="#E8EEF6" text-anchor="start" textLength="16.9" lengthAdjust="spacingAndGlyphs" >NCBI</text><text x="442.4" y="1050.5" font-family="'Liberation Sans', sans-serif" font-size="15.5" font-weight="bold" font-style="normal" fill="#fff" text-anchor="start" textLength="32.1" lengthAdjust="spacingAndGlyphs" >SRA</text>
<g transform="translate(-5.80,288.10)"><rect x="500.3" y="738" width="154.5" height="38" fill="#F6F6F6"/><rect x="504.5" y="740.6" width="26.5" height="33" fill="#E0DEC8" stroke="#5A3A1A" stroke-width="1.2"/><path d="M504.5,765 C512,761 524,761 531,765 L531,773.6 L504.5,773.6 Z" fill="#A8B820"/><path d="M515,765 L520,764 L522,767 L519,772 L517,772 Z" fill="#5A3A1A"/><path d="M517.7,764 L517.7,752 M517.7,755 L512,747 M517.7,755 L523,747" stroke="#5A3A1A" stroke-width="1" fill="none"/><ellipse cx="510.5" cy="745" rx="2" ry="1.4" fill="#5A3A1A"/><ellipse cx="513" cy="749" rx="2" ry="1.4" fill="#5A3A1A"/><ellipse cx="522" cy="745" rx="2" ry="1.4" fill="#5A3A1A"/><ellipse cx="525" cy="749" rx="2" ry="1.4" fill="#5A3A1A"/><ellipse cx="516" cy="744" rx="2" ry="1.4" fill="#5A3A1A"/><text x="546.3" y="762.3" font-family="'Liberation Serif', serif" font-size="16.3" font-weight="normal" font-style="normal" fill="#5A3010" text-anchor="start" textLength="104.8" lengthAdjust="spacingAndGlyphs" >CASSAVABASE</text></g>
<g transform="translate(-3.00,287.50)"><text x="299.9" y="814.3" font-family="'Liberation Sans', sans-serif" font-size="22.5" font-weight="bold" font-style="italic" fill="#000" text-anchor="start" textLength="46.8" lengthAdjust="spacingAndGlyphs" >ENA</text><line x1="349.0" y1="797.2" x2="350.0" y2="802.9" stroke="#3A8A8A" stroke-width="0.9"/><line x1="353.6" y1="798.8" x2="354.6" y2="801.9" stroke="#3A8A8A" stroke-width="0.9"/><line x1="358.2" y1="801.8" x2="359.2" y2="801.5" stroke="#3A8A8A" stroke-width="0.9"/><line x1="362.8" y1="805.4" x2="363.8" y2="802.0" stroke="#3A8A8A" stroke-width="0.9"/><line x1="367.4" y1="809.0" x2="368.4" y2="803.1" stroke="#3A8A8A" stroke-width="0.9"/><line x1="372.0" y1="811.7" x2="373.0" y2="804.6" stroke="#3A8A8A" stroke-width="0.9"/><line x1="376.6" y1="813.0" x2="377.6" y2="806.2" stroke="#3A8A8A" stroke-width="0.9"/><line x1="381.2" y1="812.4" x2="382.2" y2="807.6" stroke="#3A8A8A" stroke-width="0.9"/><line x1="385.8" y1="810.3" x2="386.8" y2="808.4" stroke="#3A8A8A" stroke-width="0.9"/><line x1="390.4" y1="806.9" x2="391.4" y2="808.4" stroke="#3A8A8A" stroke-width="0.9"/><line x1="395.0" y1="803.2" x2="396.0" y2="807.7" stroke="#3A8A8A" stroke-width="0.9"/><line x1="399.6" y1="799.8" x2="400.6" y2="806.4" stroke="#3A8A8A" stroke-width="0.9"/><path d="M347,799 C352,795 360,794 366,797 C372,801 375,811 382,814.5 C388,817 396,813 399,808" stroke="#2A7A90" stroke-width="2.8" fill="none"/><path d="M348,815 C355,808 360,798 368,797 C376,797 380,810 388,815 C394,818 400,809 404.7,798" stroke="#1A9A4A" stroke-width="2.4" fill="none"/><text x="299.9" y="822.9" font-family="'Liberation Sans', sans-serif" font-size="7.4" font-weight="normal" font-style="normal" fill="#111" text-anchor="start" textLength="103.2" lengthAdjust="spacingAndGlyphs" >European Nucleotide Archive</text></g>
<g transform="translate(-3.20,290.10)"><path d="M423.5,798.5 C428,802 428,806 424.5,809.5 C421,813 421,817 426,821" stroke="#E0A030" stroke-width="1.6" fill="none"/><path d="M419.5,800 C424,801 428,804 426,808.5 C423.5,813 423,817 431,820.5" stroke="#111" stroke-width="1.4" fill="none"/><text x="435.1" y="815.5" font-family="'Liberation Serif', serif" font-size="18.5" font-weight="normal" font-style="normal" fill="#000" text-anchor="start" textLength="45.3" lengthAdjust="spacingAndGlyphs" >DDBJ</text><text x="436.5" y="820.6" font-family="'Liberation Sans', sans-serif" font-size="3" font-weight="normal" font-style="normal" fill="#444" text-anchor="start" textLength="34" lengthAdjust="spacingAndGlyphs" >DNA Data Bank of Japan</text></g>
<path d="M296,1315 C296,1306 302,1303.5 312,1303.5 L321.7,1303.5 C320,1310 314,1313 306,1314.5 C302,1315.5 298,1317 296,1318 Z" fill="#1E9A3A"/>
<ellipse cx="308.5" cy="1321.5" rx="12.5" ry="5.2" fill="#1E9A3A"/>
<path d="M296,1321.5 L321,1321.5 M308.5,1316.5 L308.5,1326.7" stroke="#fff" stroke-width="1"/>
<ellipse cx="308.5" cy="1321.5" rx="4" ry="5.2" fill="none" stroke="#fff" stroke-width="0.9"/>
<text x="322.2" y="1325.7" font-family="'Liberation Sans', sans-serif" font-size="29" font-weight="normal" font-style="normal" fill="#111" text-anchor="start" textLength="57.7" lengthAdjust="spacingAndGlyphs" >CIAT</text>
<text x="294.2" y="1334.1" font-family="'Liberation Sans', sans-serif" font-size="4.6" font-weight="normal" font-style="normal" fill="#555" text-anchor="start" textLength="85.7" lengthAdjust="spacingAndGlyphs" >International Center for Tropical Agriculture</text>
<text x="294.2" y="1339.2" font-family="'Liberation Sans', sans-serif" font-size="4.6" font-weight="normal" font-style="italic" fill="#999" text-anchor="start" textLength="23" lengthAdjust="spacingAndGlyphs" >Since 1967</text>
<text x="318.5" y="1339.2" font-family="'Liberation Sans', sans-serif" font-size="4.6" font-weight="normal" font-style="italic" fill="#D04040" text-anchor="start" textLength="61.4" lengthAdjust="spacingAndGlyphs" >Science to cultivate change</text>
<g transform="translate(415.8,1330) skewX(-6)"><text x="0" y="0" font-family="'Liberation Sans', sans-serif" font-size="28" font-weight="bold" font-style="normal" fill="#E07020" text-anchor="start" textLength="56" lengthAdjust="spacingAndGlyphs" >IITA</text></g>
<path d="M415.8,1335.3 C440,1333 465,1332.3 485,1332.5" stroke="#E08040" stroke-width="1.2" fill="none"/>
<text x="0" y="0" transform="translate(513.33,1318.84) rotate(296.8)" font-family="'Liberation Serif', serif" font-size="8.6" fill="#2A8A3A" text-anchor="middle">G</text><text x="0" y="0" transform="translate(515.55,1315.48) rotate(310.4)" font-family="'Liberation Serif', serif" font-size="8.6" fill="#2A8A3A" text-anchor="middle">R</text><text x="0" y="0" transform="translate(518.51,1312.75) rotate(324.0)" font-family="'Liberation Serif', serif" font-size="8.6" fill="#2A8A3A" text-anchor="middle">I</text><text x="0" y="0" transform="translate(522.02,1310.78) rotate(337.6)" font-family="'Liberation Serif', serif" font-size="8.6" fill="#2A8A3A" text-anchor="middle">N</text><text x="0" y="0" transform="translate(525.90,1309.70) rotate(351.2)" font-family="'Liberation Serif', serif" font-size="8.6" fill="#2A8A3A" text-anchor="middle">-</text>
<text x="0" y="0" transform="translate(534.17,1310.48) rotate(379.5)" font-family="'Liberation Serif', serif" font-size="8.6" fill="#2A8A3A" text-anchor="middle">G</text><text x="0" y="0" transform="translate(538.13,1312.49) rotate(394.5)" font-family="'Liberation Serif', serif" font-size="8.6" fill="#2A8A3A" text-anchor="middle">l</text><text x="0" y="0" transform="translate(541.43,1315.46) rotate(409.5)" font-family="'Liberation Serif', serif" font-size="8.6" fill="#2A8A3A" text-anchor="middle">o</text><text x="0" y="0" transform="translate(543.84,1319.18) rotate(424.5)" font-family="'Liberation Serif', serif" font-size="8.6" fill="#2A8A3A" text-anchor="middle">b</text><text x="0" y="0" transform="translate(545.22,1323.40) rotate(439.5)" font-family="'Liberation Serif', serif" font-size="8.6" fill="#2A8A3A" text-anchor="middle">a</text><text x="0" y="0" transform="translate(545.45,1327.83) rotate(454.5)" font-family="'Liberation Serif', serif" font-size="8.6" fill="#2A8A3A" text-anchor="middle">l</text>
<path d="M524.0,1314.5 Q528.5,1315.7 533.0,1314.5" stroke="#2A8A3A" stroke-width="1.0" fill="none"/>
<path d="M520.0,1316.9 Q528.5,1318.1 537.0,1316.9" stroke="#2A8A3A" stroke-width="1.0" fill="none"/>
<path d="M517.9,1319.3 Q528.5,1320.5 539.1,1319.3" stroke="#2A8A3A" stroke-width="1.0" fill="none"/>
<path d="M516.6,1321.7 Q528.5,1322.9 540.4,1321.7" stroke="#2A8A3A" stroke-width="1.0" fill="none"/>
<path d="M515.9,1324.1 Q528.5,1325.3 541.1,1324.1" stroke="#2A8A3A" stroke-width="1.0" fill="none"/>
<path d="M515.7,1326.5 Q528.5,1327.7 541.3,1326.5" stroke="#2A8A3A" stroke-width="1.0" fill="none"/>
<path d="M515.9,1328.9 Q528.5,1330.1 541.1,1328.9" stroke="#2A8A3A" stroke-width="1.0" fill="none"/>
<path d="M516.6,1331.3 Q528.5,1332.5 540.4,1331.3" stroke="#2A8A3A" stroke-width="1.0" fill="none"/>
<path d="M517.9,1333.7 Q528.5,1334.9 539.1,1333.7" stroke="#2A8A3A" stroke-width="1.0" fill="none"/>
<path d="M520.0,1336.1 Q528.5,1337.3 537.0,1336.1" stroke="#2A8A3A" stroke-width="1.0" fill="none"/>
<path d="M524.0,1338.5 Q528.5,1339.7 533.0,1338.5" stroke="#2A8A3A" stroke-width="1.0" fill="none"/>
<path d="M531,1313 C533,1320 532,1330 535,1338" stroke="#1E6A2A" stroke-width="2.2" fill="none"/>
<rect x="786.5" y="72.8" width="915.0" height="1307.7" fill="none" stroke="#8FAADC" stroke-width="2.7" stroke-dasharray="2.67 2.67"/>
<path d="M825,131 A13,13 0 0 1 838,118 L1033,118 L1033,185 A13,13 0 0 1 1020,198 L825,198 Z" fill="#FFE699"/>
<path d="M829,131 A9,9 0 0 1 838,122 L1029,122 L1029,185 A9,9 0 0 1 1020,194 L829,194 Z" fill="#3587FC"/>
<text x="929.0" y="168" font-family="'Liberation Sans', sans-serif" font-size="26.67" font-weight="bold" fill="#fff" text-anchor="middle" >Species</text>
<path d="M825,402.5 A13,13 0 0 1 838,389.5 L1033,389.5 L1033,455.5 A13,13 0 0 1 1020,468.5 L825,468.5 Z" fill="#FFE699"/>
<path d="M829,402.5 A9,9 0 0 1 838,393.5 L1029,393.5 L1029,455.5 A9,9 0 0 1 1020,464.5 L829,464.5 Z" fill="#00CFB7"/>
<text x="929.0" y="438.3" font-family="'Liberation Sans', sans-serif" font-size="26.67" font-weight="bold" fill="#fff" text-anchor="middle" >Assembly</text>
<path d="M825,689 A13,13 0 0 1 838,676 L1033,676 L1033,742.5 A13,13 0 0 1 1020,755.5 L825,755.5 Z" fill="#FFE699"/>
<path d="M829,689 A9,9 0 0 1 838,680 L1029,680 L1029,742.5 A9,9 0 0 1 1020,751.5 L829,751.5 Z" fill="#50BC93"/>
<text x="929.0" y="726" font-family="'Liberation Sans', sans-serif" font-size="26.67" font-weight="bold" fill="#fff" text-anchor="middle" >Project</text>
<path d="M825,978.5 A13,13 0 0 1 838,965.5 L1033,965.5 L1033,1031.5 A13,13 0 0 1 1020,1044.5 L825,1044.5 Z" fill="#FFE699"/>
<path d="M829,978.5 A9,9 0 0 1 838,969.5 L1029,969.5 L1029,1031.5 A9,9 0 0 1 1020,1040.5 L829,1040.5 Z" fill="#35ACC6"/>
<text x="929.0" y="1014.8" font-family="'Liberation Sans', sans-serif" font-size="26.67" font-weight="bold" fill="#fff" text-anchor="middle" >Sample</text>
<path d="M825,1250.5 A13,13 0 0 1 838,1237.5 L1033,1237.5 L1033,1302.5 A13,13 0 0 1 1020,1315.5 L825,1315.5 Z" fill="#FFE699"/>
<path d="M829,1250.5 A9,9 0 0 1 838,1241.5 L1029,1241.5 L1029,1302.5 A9,9 0 0 1 1020,1311.5 L829,1311.5 Z" fill="#0070C0"/>
<text x="929.0" y="1286.6" font-family="'Liberation Sans', sans-serif" font-size="26.67" font-weight="bold" fill="#fff" text-anchor="middle" >Cultivar</text>
<path d="M1357,131 A13,13 0 0 1 1370,118 L1565,118 L1565,185 A13,13 0 0 1 1552,198 L1357,198 Z" fill="#FFE699"/>
<path d="M1361,131 A9,9 0 0 1 1370,122 L1561,122 L1561,185 A9,9 0 0 1 1552,194 L1361,194 Z" fill="#00CFB7"/>
<text x="1461.0" y="168" font-family="'Liberation Sans', sans-serif" font-size="26.67" font-weight="bold" fill="#fff" text-anchor="middle" >Homolog</text>
<path d="M1357,394.4 A13,13 0 0 1 1370,381.4 L1565,381.4 L1565,446.5 A13,13 0 0 1 1552,459.5 L1357,459.5 Z" fill="#FFE699"/>
<path d="M1361,394.4 A9,9 0 0 1 1370,385.4 L1561,385.4 L1561,446.5 A9,9 0 0 1 1552,455.5 L1361,455.5 Z" fill="#00CFB7"/>
<text x="1461.0" y="429.7" font-family="'Liberation Sans', sans-serif" font-size="26.67" font-weight="bold" fill="#fff" text-anchor="middle" >Gene</text>
<path d="M1357,689.4 A13,13 0 0 1 1370,676.4 L1565,676.4 L1565,741 A13,13 0 0 1 1552,754 L1357,754 Z" fill="#FFE699"/>
<path d="M1361,689.4 A9,9 0 0 1 1370,680.4 L1561,680.4 L1561,741 A9,9 0 0 1 1552,750 L1361,750 Z" fill="#50BC93"/>
<text x="1461.0" y="724.5" font-family="'Liberation Sans', sans-serif" font-size="26.67" font-weight="bold" fill="#fff" text-anchor="middle" >Expression</text>
<path d="M1357,976.3 A13,13 0 0 1 1370,963.3 L1565,963.3 L1565,1028.5 A13,13 0 0 1 1552,1041.5 L1357,1041.5 Z" fill="#FFE699"/>
<path d="M1361,976.3 A9,9 0 0 1 1370,967.3 L1561,967.3 L1561,1028.5 A9,9 0 0 1 1552,1037.5 L1361,1037.5 Z" fill="#35ACC6"/>
<text x="1461.0" y="1012.5" font-family="'Liberation Sans', sans-serif" font-size="26.67" font-weight="bold" fill="#fff" text-anchor="middle" >Variation</text>
<rect x="1097" y="391" width="197" height="76" fill="#DEEBF7"/>
<text x="1195.5" y="422.2" font-family="'Liberation Sans', sans-serif" font-size="21.33" font-weight="bold" fill="#000" text-anchor="middle" >genome</text>
<text x="1195.5" y="446.8" font-family="'Liberation Sans', sans-serif" font-size="21.33" font-weight="bold" fill="#000" text-anchor="middle" >annotation</text>
<rect x="1363" y="254" width="196" height="71" fill="#DEEBF7"/>
<text x="1461.0" y="284" font-family="'Liberation Sans', sans-serif" font-size="21.33" font-weight="bold" fill="#000" text-anchor="middle" >homolog</text>
<text x="1461.0" y="308.6" font-family="'Liberation Sans', sans-serif" font-size="21.33" font-weight="bold" fill="#000" text-anchor="middle" >analysis</text>
<rect x="1097" y="678" width="197" height="75" fill="#DEEBF7"/>
<text x="1195.5" y="707.9" font-family="'Liberation Sans', sans-serif" font-size="21.33" font-weight="bold" fill="#000" text-anchor="middle" >expression</text>
<text x="1195.5" y="732.6" font-family="'Liberation Sans', sans-serif" font-size="21.33" font-weight="bold" fill="#000" text-anchor="middle" >quantification</text>
<rect x="1097" y="967" width="197" height="75.5" fill="#DEEBF7"/>
<text x="1195.5" y="997.3" font-family="'Liberation Sans', sans-serif" font-size="21.33" font-weight="bold" fill="#000" text-anchor="middle" >variation</text>
<text x="1195.5" y="1022.8" font-family="'Liberation Sans', sans-serif" font-size="21.33" font-weight="bold" fill="#000" text-anchor="middle" >calling</text>
<rect x="1537" y="815" width="151" height="76" fill="#DEEBF7"/>
<text x="1612.5" y="845.2" font-family="'Liberation Sans', sans-serif" font-size="21.33" font-weight="bold" fill="#000" text-anchor="middle" >variants</text>
<text x="1612.5" y="870.2" font-family="'Liberation Sans', sans-serif" font-size="21.33" font-weight="bold" fill="#000" text-anchor="middle" >annotation</text>
<line x1="1031" y1="429" x2="1083.5" y2="429" stroke="#8FAADC" stroke-width="3.5"/>
<polygon points="1098,429 1082.5,421 1082.5,437" fill="#8FAADC"/>
<line x1="1292" y1="428" x2="1344.5" y2="428" stroke="#8FAADC" stroke-width="3.5"/>
<polygon points="1359,428 1343.5,420 1343.5,436" fill="#8FAADC"/>
<line x1="1031" y1="717" x2="1083.5" y2="717" stroke="#8FAADC" stroke-width="3.5"/>
<polygon points="1098,717 1082.5,709 1082.5,725" fill="#8FAADC"/>
<line x1="1292" y1="716" x2="1344.5" y2="716" stroke="#8FAADC" stroke-width="3.5"/>
<polygon points="1359,716 1343.5,708 1343.5,724" fill="#8FAADC"/>
<line x1="1031" y1="1002.8" x2="1085.0" y2="1002.8" stroke="#8FAADC" stroke-width="3.5"/>
<polygon points="1099.5,1002.8 1084.0,994.8 1084.0,1010.8" fill="#8FAADC"/>
<line x1="1292" y1="1001.7" x2="1345.5" y2="1001.7" stroke="#8FAADC" stroke-width="3.5"/>
<polygon points="1360,1001.7 1344.5,993.7 1344.5,1009.7" fill="#8FAADC"/>
<line x1="1462" y1="383" x2="1462" y2="339.8" stroke="#8FAADC" stroke-width="3.5"/>
<polygon points="1462,325.3 1454,340.8 1470,340.8" fill="#8FAADC"/>
<line x1="1461" y1="256" x2="1461" y2="212.7" stroke="#8FAADC" stroke-width="3.5"/>
<polygon points="1461,198.2 1453,213.7 1469,213.7" fill="#8FAADC"/>
<polyline points="1563,1002 1614,1002 1614,889" fill="none" stroke="#8FAADC" stroke-width="3.5"/>
<polyline points="1614,817 1614,428 1576,428" fill="none" stroke="#8FAADC" stroke-width="3.5"/>
<polygon points="1561.5,428 1577,420 1577,436" fill="#8FAADC"/>
<line x1="1037.0" y1="158.0" x2="1353.0" y2="158.0" stroke="#A5A5A5" stroke-width="4" stroke-dasharray="15.5 12.5" stroke-dashoffset="-3"/>
<polyline points="1051.5,167.0 1034.0,158.0 1051.5,149.0" fill="none" stroke="#A5A5A5" stroke-width="4" stroke-linecap="round" stroke-linejoin="miter"/>
<line x1="1035.0" y1="158.0" x2="1051.5" y2="158.0" stroke="#A5A5A5" stroke-width="4"/>
<polyline points="1338.5,167.0 1356.0,158.0 1338.5,149.0" fill="none" stroke="#A5A5A5" stroke-width="4" stroke-linecap="round" stroke-linejoin="miter"/>
<line x1="1355.0" y1="158.0" x2="1338.5" y2="158.0" stroke="#A5A5A5" stroke-width="4"/>
<line x1="929.0" y1="202.0" x2="929.0" y2="385.5" stroke="#A5A5A5" stroke-width="4" stroke-dasharray="15.5 12.5" stroke-dashoffset="-3"/>
<polyline points="920.0,216.5 929.0,199.0 938.0,216.5" fill="none" stroke="#A5A5A5" stroke-width="4" stroke-linecap="round" stroke-linejoin="miter"/>
<line x1="929.0" y1="200.0" x2="929.0" y2="216.5" stroke="#A5A5A5" stroke-width="4"/>
<polyline points="920.0,371.0 929.0,388.5 938.0,371.0" fill="none" stroke="#A5A5A5" stroke-width="4" stroke-linecap="round" stroke-linejoin="miter"/>
<line x1="929.0" y1="387.5" x2="929.0" y2="371.0" stroke="#A5A5A5" stroke-width="4"/>
<line x1="929.0" y1="759.5" x2="929.0" y2="961.5" stroke="#A5A5A5" stroke-width="4" stroke-dasharray="15.5 12.5" stroke-dashoffset="-3"/>
<polyline points="920.0,774.0 929.0,756.5 938.0,774.0" fill="none" stroke="#A5A5A5" stroke-width="4" stroke-linecap="round" stroke-linejoin="miter"/>
<line x1="929.0" y1="757.5" x2="929.0" y2="774.0" stroke="#A5A5A5" stroke-width="4"/>
<polyline points="920.0,947.0 929.0,964.5 938.0,947.0" fill="none" stroke="#A5A5A5" stroke-width="4" stroke-linecap="round" stroke-linejoin="miter"/>
<line x1="929.0" y1="963.5" x2="929.0" y2="947.0" stroke="#A5A5A5" stroke-width="4"/>
<line x1="929.0" y1="1048.5" x2="929.0" y2="1233.5" stroke="#A5A5A5" stroke-width="4" stroke-dasharray="15.5 12.5" stroke-dashoffset="-3"/>
<polyline points="920.0,1063.0 929.0,1045.5 938.0,1063.0" fill="none" stroke="#A5A5A5" stroke-width="4" stroke-linecap="round" stroke-linejoin="miter"/>
<line x1="929.0" y1="1046.5" x2="929.0" y2="1063.0" stroke="#A5A5A5" stroke-width="4"/>
<polyline points="920.0,1219.0 929.0,1236.5 938.0,1219.0" fill="none" stroke="#A5A5A5" stroke-width="4" stroke-linecap="round" stroke-linejoin="miter"/>
<line x1="929.0" y1="1235.5" x2="929.0" y2="1219.0" stroke="#A5A5A5" stroke-width="4"/>
<line x1="1465.0" y1="463.5" x2="1465.0" y2="672.4" stroke="#A5A5A5" stroke-width="4" stroke-dasharray="15.5 12.5" stroke-dashoffset="-3"/>
<polyline points="1456.0,478.0 1465.0,460.5 1474.0,478.0" fill="none" stroke="#A5A5A5" stroke-width="4" stroke-linecap="round" stroke-linejoin="miter"/>
<line x1="1465.0" y1="461.5" x2="1465.0" y2="478.0" stroke="#A5A5A5" stroke-width="4"/>
<polyline points="1456.0,657.9 1465.0,675.4 1474.0,657.9" fill="none" stroke="#A5A5A5" stroke-width="4" stroke-linecap="round" stroke-linejoin="miter"/>
<line x1="1465.0" y1="674.4" x2="1465.0" y2="657.9" stroke="#A5A5A5" stroke-width="4"/>
<text x="1197" y="184.9" font-family="'Liberation Serif', serif" font-size="21.33" font-weight="normal" fill="#000" text-anchor="middle" >Association</text>
<text x="928" y="302" font-family="'Liberation Serif', serif" font-size="21.33" font-weight="normal" fill="#000" text-anchor="middle" >Association</text>
<text x="929" y="868" font-family="'Liberation Serif', serif" font-size="21.33" font-weight="normal" fill="#000" text-anchor="middle" >Association</text>
<text x="929" y="1147.3" font-family="'Liberation Serif', serif" font-size="21.33" font-weight="normal" fill="#000" text-anchor="middle" >Association</text>
<text x="1472" y="575.5" font-family="'Liberation Serif', serif" font-size="21.33" font-weight="normal" fill="#000" text-anchor="middle" >Association</text>
<text x="1197.2" y="487" font-family="'Liberation Serif', serif" font-size="21.33" font-weight="normal" fill="#000" text-anchor="middle" >Function; Domain; Pathway</text>
<text x="1194.8" y="784" font-family="'Liberation Serif', serif" font-size="21.33" font-weight="normal" fill="#000" text-anchor="middle" >RNA-Seq</text>
<text x="1194.6" y="1075.6" font-family="'Liberation Serif', serif" font-size="21.33" font-weight="normal" fill="#000" text-anchor="middle" >WGS</text>
<rect x="1715.5" y="72.5" width="830.5" height="1307.9" fill="none" stroke="#8FAADC" stroke-width="2.7" stroke-dasharray="2.67 2.67"/>
<rect x="1728.8" y="90.6" width="804.0000000000002" height="317.4" rx="50" fill="none" stroke="#9DC3E6" stroke-width="3"/>
<rect x="2345" y="79.3" width="136" height="45" fill="#DEEBF7"/>
<text x="2417" y="109.7" font-family="'Liberation Serif', serif" font-size="21.33" font-weight="bold" fill="#000" text-anchor="middle" >Web server</text>
<text x="1851" y="391.3" font-family="'Liberation Serif', serif" font-size="21.33" font-weight="normal" fill="#000" text-anchor="middle" >Data browsing</text>
<text x="2115" y="391.3" font-family="'Liberation Serif', serif" font-size="21.33" font-weight="normal" fill="#000" text-anchor="middle" >Visualization</text>
<text x="2397" y="391.3" font-family="'Liberation Serif', serif" font-size="21.33" font-weight="normal" fill="#000" text-anchor="middle" >Analysis tools</text>
<polygon points="2130,444.8 2174.8,490 2152.8,490 2152.8,556.9 2130,534.8 2107.6,556.9 2107.6,490 2085.2,490" fill="#8FAADC"/>
<rect x="-92.65" y="-72.0" width="185.3" height="144" rx="23" fill="#00CFB7" transform="translate(2136.7,674.0) rotate(0)"/>
<rect x="-92.65" y="-72.0" width="185.3" height="144" rx="23" fill="#35ACC6" transform="translate(1889.0,812.0) rotate(-60)"/>
<rect x="-92.65" y="-72.0" width="185.3" height="144" rx="23" fill="#3587FC" transform="translate(2396.9,830.3) rotate(60)"/>
<rect x="-92.65" y="-72.0" width="185.3" height="144" rx="23" fill="#50BC93" transform="translate(1889.4,1112.9) rotate(60)"/>
<rect x="-92.65" y="-72.0" width="185.3" height="144" rx="23" fill="#00B050" transform="translate(2396.5,1107.6) rotate(-60)"/>
<rect x="-92.65" y="-72.0" width="185.3" height="144" rx="23" fill="#0070C0" transform="translate(2139.5,1252.0) rotate(0)"/>
<line x1="2071.6" y1="849.3" x2="2206.9" y2="849.3" stroke="#00CFB7" stroke-width="1.8" stroke-linecap="round"/>
<line x1="2206.9" y1="849.3" x2="2273.3" y2="963.7" stroke="#3587FC" stroke-width="1.8" stroke-linecap="round"/>
<line x1="2273.3" y1="963.7" x2="2207.9" y2="1077" stroke="#00B050" stroke-width="1.8" stroke-linecap="round"/>
<line x1="2207.9" y1="1077" x2="2072.1" y2="1077" stroke="#0070C0" stroke-width="1.8" stroke-linecap="round"/>
<line x1="2072.1" y1="1077" x2="2006.4" y2="962.4" stroke="#50BC93" stroke-width="1.8" stroke-linecap="round"/>
<line x1="2006.4" y1="962.4" x2="2071.6" y2="849.3" stroke="#35ACC6" stroke-width="1.8" stroke-linecap="round"/>
<line x1="2071" y1="802.8" x2="2206.9" y2="802.8" stroke="#00CFB7" stroke-width="1.8"/>
<line x1="2031.5" y1="826" x2="1965" y2="940.9" stroke="#35ACC6" stroke-width="1.8"/>
<line x1="2248" y1="827" x2="2314.7" y2="942.4" stroke="#3587FC" stroke-width="1.8"/>
<line x1="1965.5" y1="985.1" x2="2031.5" y2="1100" stroke="#50BC93" stroke-width="1.8"/>
<line x1="2314.2" y1="986.2" x2="2248" y2="1100.7" stroke="#00B050" stroke-width="1.8"/>
<line x1="2072.2" y1="1122.5" x2="2208.1" y2="1122.5" stroke="#0070C0" stroke-width="1.8"/>
<line x1="2138.3" y1="802.8" x2="2136.7" y2="744.3" stroke="#00CFB7" stroke-width="1.8"/>
<line x1="1997.9" y1="883.5" x2="1945.5" y2="855.6" stroke="#35ACC6" stroke-width="1.8"/>
<line x1="2281" y1="884.8" x2="2331.6" y2="853.9" stroke="#3587FC" stroke-width="1.8"/>
<line x1="1998.6" y1="1042.5" x2="1947.2" y2="1073.0" stroke="#50BC93" stroke-width="1.8"/>
<line x1="2281" y1="1043.8" x2="2333.5" y2="1071.0" stroke="#00B050" stroke-width="1.8"/>
<line x1="2139.5" y1="1122.5" x2="2138.5" y2="1180.9" stroke="#0070C0" stroke-width="1.8"/>
<circle cx="2136.7" cy="744.3" r="19.5" fill="#fff" stroke="#00CFB7" stroke-width="1.8"/>
<polygon points="2122.7,745.5 2129.4,734.2 2144.5,734.2 2151.0,745.5 2144.5,756.8 2129.4,756.8" fill="none" stroke="#000" stroke-width="1.7" stroke-linejoin="round"/><line x1="2132.8" y1="739.5" x2="2139.8" y2="739.5" stroke="#000" stroke-width="1.5"/><circle cx="2142.2" cy="739.5" r="0.8" fill="#000"/><line x1="2132.1" y1="745.5" x2="2143.5" y2="745.5" stroke="#000" stroke-width="1.5"/><circle cx="2128.1" cy="745.5" r="0.8" fill="#000"/><circle cx="2146.0" cy="745.5" r="0.8" fill="#000"/><line x1="2135.6" y1="751.7" x2="2142.2" y2="751.7" stroke="#000" stroke-width="1.5"/><circle cx="2132.1" cy="751.7" r="0.8" fill="#000"/>
<circle cx="1945.5" cy="855.6" r="19.5" fill="#fff" stroke="#35ACC6" stroke-width="1.8"/>
<line x1="1937.6" y1="845.6" x2="1937.6" y2="865.1" stroke="#000" stroke-width="1.7"/><line x1="1942.1" y1="845.6" x2="1942.1" y2="865.1" stroke="#000" stroke-width="1.7"/><line x1="1946.4" y1="845.6" x2="1946.4" y2="865.1" stroke="#000" stroke-width="1.7"/><line x1="1950.9" y1="845.6" x2="1950.9" y2="865.1" stroke="#000" stroke-width="1.7"/><line x1="1937.6" y1="853.6" x2="1937.6" y2="854.6" stroke="#fff" stroke-width="1.5"/><line x1="1942.1" y1="857.4" x2="1942.1" y2="858.6" stroke="#fff" stroke-width="1.5"/><line x1="1950.9" y1="855.0" x2="1950.9" y2="856.2" stroke="#fff" stroke-width="1.5"/><line x1="1937.6" y1="850.1" x2="1939.0" y2="850.1" stroke="#000" stroke-width="0.8"/><line x1="1942.1" y1="854.1" x2="1943.5" y2="854.1" stroke="#000" stroke-width="0.8"/><line x1="1937.6" y1="858.4" x2="1939.0" y2="858.4" stroke="#000" stroke-width="0.8"/><line x1="1946.4" y1="858.4" x2="1948.0" y2="858.4" stroke="#000" stroke-width="0.8"/><line x1="1949.0" y1="848.6" x2="1950.9" y2="848.6" stroke="#000" stroke-width="0.8"/><circle cx="1935.7" cy="847.1" r="0.55" fill="#000"/><circle cx="1935.7" cy="849.1" r="0.55" fill="#000"/><circle cx="1935.7" cy="863.1" r="0.55" fill="#000"/>
<circle cx="2331.6" cy="853.9" r="19.5" fill="#fff" stroke="#3587FC" stroke-width="1.8"/>
<path d="M-2,7.8 C-7,7 -10.5,5 -10,1.8 C-9.6,-0.2 -7.5,-0.9 -5.6,-0.7 C-8.6,-1.6 -8.9,-4.6 -7.3,-5.6 C-6,-6.6 -4,-6.4 -2.7,-5.6 C-4.8,-8 -3.6,-13 0.9,-13.3 C5.4,-13.3 6.5,-9 4.8,-6.6 C6.5,-7.5 10,-6.5 10.5,-3.8 C11,-1.8 9.5,-0.5 7.7,-0.4 C11,0 13.2,2 12.7,4.3 C12,7 8,8 2.7,7.8" transform="translate(2331.6,853.9)" fill="none" stroke="#000" stroke-width="1.7" stroke-linecap="round"/><g transform="translate(2331.6,853.9)" stroke="#000" stroke-width="1.6" stroke-linecap="round" fill="none"><line x1="1" y1="-5.5" x2="1" y2="10.6"/><line x1="1" y1="-0.8" x2="-2.7" y2="-3.3"/><line x1="1" y1="3" x2="3.6" y2="1.2"/><line x1="1" y1="-4" x2="1.8" y2="-5"/></g>
<circle cx="1947.2" cy="1073.0" r="19.5" fill="#fff" stroke="#50BC93" stroke-width="1.8"/>
<g transform="translate(1947.2,1073.0)" stroke="#000" stroke-width="1.7" stroke-linecap="round" fill="none"><path d="M-7.5,13.4 C-3,11 -1.5,8 -0.5,2 C0.5,-4 2,-10 7.5,-12.4"/><line x1="-9.9" y1="1.4" x2="-5.9" y2="10.8"/><line x1="-4.8" y1="2.9" x2="-3.8" y2="8.6"/><line x1="3.4" y1="-6.5" x2="4.8" y2="-0.4"/><line x1="6.3" y1="-10.1" x2="9.9" y2="0.4"/></g>
<circle cx="2333.5" cy="1071.0" r="19.5" fill="#fff" stroke="#00B050" stroke-width="1.8"/>
<g transform="translate(2333.5,1071.0)" stroke="#3C3C4E" stroke-width="1.1" fill="none"><rect x="-7.8" y="-6.9" width="7.4" height="7.2" rx="1.2"/><rect x="-7.8" y="2.3" width="7.4" height="7.2" rx="1.2"/><rect x="2.4" y="2.3" width="7.4" height="7.2" rx="1.2"/><polygon points="5.9,-8 10.2,-3.6 5.9,0.8 1.6,-3.6" stroke-linejoin="round"/></g>
<circle cx="2138.5" cy="1180.9" r="19.5" fill="#fff" stroke="#0070C0" stroke-width="1.8"/>
<g transform="translate(2138.5,1180.9)" stroke="#000" stroke-width="1.3" fill="none"><line x1="-0.7" y1="1.3" x2="-0.7" y2="-9.3"/><line x1="-0.7" y1="1.3" x2="-9.7" y2="6.3"/><line x1="-0.7" y1="1.3" x2="8.3" y2="6.3"/><circle cx="-0.7" cy="-9.3" r="2.9" fill="#fff"/><circle cx="-9.7" cy="6.3" r="2.9" fill="#fff"/><circle cx="8.3" cy="6.3" r="2.9" fill="#fff"/><circle cx="-0.7" cy="1.3" r="2.9" fill="#fff"/><path d="M4.03,-8.85 A11.2,11.2 0 0 1 10.33,-0.64"/><path d="M4.90,11.00 A11.2,11.2 0 0 1 -6.30,11.00"/><path d="M-11.73,-0.64 A11.2,11.2 0 0 1 -5.43,-8.85"/></g>
<text transform="translate(2138.8,827.5) rotate(0)" x="0" y="6" font-family="'Liberation Sans', sans-serif" font-size="17.2" text-anchor="middle">Genome</text>
<text transform="translate(2140.5,1099.4) rotate(0)" x="0" y="6" font-family="'Liberation Sans', sans-serif" font-size="17.2" text-anchor="middle">Cultivar</text>
<text transform="translate(2018.5,893.8) rotate(-60)" x="0" y="6" font-family="'Liberation Sans', sans-serif" font-size="17.2" text-anchor="middle">Variome</text>
<text transform="translate(2259.0,896.4) rotate(60)" x="0" y="6" font-family="'Liberation Sans', sans-serif" font-size="17.2" text-anchor="middle">Species</text>
<text transform="translate(2017.8,1029.6) rotate(60)" x="0" y="6" font-family="'Liberation Sans', sans-serif" font-size="17.2" text-anchor="middle">Transcriptome</text>
<text transform="translate(2260.4,1032.2) rotate(-60)" x="0" y="6" font-family="'Liberation Sans', sans-serif" font-size="17.2" text-anchor="middle">Tools</text>
<g transform="translate(2136.7,674.0) rotate(0)" font-family="'Liberation Sans', sans-serif" font-size="14.5" fill="#000"><circle cx="-57.3" cy="-17.88" r="1.81"/><text x="-47.2" y="-13.10">Assembly</text><circle cx="-57.3" cy="-0.53" r="1.81"/><text x="-47.2" y="4.25">Gene annotation</text><circle cx="-57.3" cy="16.82" r="1.81"/><text x="-47.2" y="21.60">Homolog graph</text></g>
<g transform="translate(1889.0,812.0) rotate(-60)" font-family="'Liberation Sans', sans-serif" font-size="14.5" fill="#000"><circle cx="-54.2" cy="-19.98" r="1.81"/><text x="-44.0" y="-15.20">Variation</text><circle cx="-54.2" cy="-2.79" r="1.81"/><text x="-44.0" y="2.00">WGS sample</text><circle cx="-54.2" cy="14.41" r="1.81"/><text x="-44.0" y="19.20">WGS project</text></g>
<g transform="translate(2396.9,830.3) rotate(60)" font-family="'Liberation Sans', sans-serif" font-size="14.5" fill="#000"><circle cx="-66.7" cy="-13.79" r="1.81"/><text x="-55.6" y="-9.00">Scientific introduction</text><circle cx="-66.7" cy="4.02" r="1.81"/><text x="-55.6" y="8.80">Statistical&#160;&#160;list</text></g>
<g transform="translate(1889.4,1112.9) rotate(60)" font-family="'Liberation Sans', sans-serif" font-size="14.5" fill="#000"><circle cx="-57.0" cy="-20.59" r="1.81"/><text x="-46.8" y="-15.80">Expression</text><circle cx="-57.0" cy="-3.19" r="1.81"/><text x="-46.8" y="1.60">RNASeq sample</text><circle cx="-57.0" cy="14.21" r="1.81"/><text x="-46.8" y="19.00">RNASeq project</text></g>
<g transform="translate(2396.5,1107.6) rotate(-60)" font-family="'Liberation Sans', sans-serif" font-size="13.0" fill="#000"><circle cx="-71.0" cy="-40.59" r="1.62"/><text x="-61.0" y="-36.30">BLAST</text><circle cx="-71.0" cy="-24.94" r="1.62"/><text x="-61.0" y="-20.65">Genome Browser</text><circle cx="-71.0" cy="-9.29" r="1.62"/><text x="-61.0" y="-5.00">Primer Design</text><circle cx="-71.0" cy="6.36" r="1.62"/><text x="-61.0" y="10.65">GO Enrichment</text><circle cx="-71.0" cy="22.01" r="1.62"/><text x="-61.0" y="26.30">KEGG Enrichment</text><circle cx="-71.0" cy="37.66" r="1.62"/><text x="-61.0" y="41.95">Synteny Viewer</text><circle cx="-71.0" cy="53.31" r="1.62"/><text x="-61.0" y="57.60">Literature Search</text></g>
<g transform="translate(2139.5,1252.0) rotate(0)" font-family="'Liberation Sans', sans-serif" font-size="14.5" fill="#000"><circle cx="-58.3" cy="-13.98" r="1.81"/><text x="-47.9" y="-9.20">Global distribution</text><circle cx="-58.3" cy="3.52" r="1.81"/><text x="-47.9" y="8.30">Cultivar information</text></g>
<circle cx="2139.9" cy="942.0" r="32.6" fill="#7BBB35"/>
<path d="M2136.71,913.41 A28.6,28.6 0 1 1 2114.28,929.71 L2118.68,929.23 A24.3,24.3 0 1 0 2137.74,915.38 Z" fill="#EEF6E6"/>
<path d="M2132.9,964.0 C2133.4,950.0 2136.4,939.0 2139.1,933.0 L2140.5,933.0 C2140.2000000000003,944.0 2140.7000000000003,954.0 2141.7000000000003,964.0 Z" fill="#EEF6E6"/>
<path d="M2139.6,932.8 Q2134.7,923.2 2124.7,927.1 Q2132.5,929.1 2139.6,932.8 Z" fill="#EEF6E6"/>
<path d="M2139.6,932.8 Q2143.0,923.7 2134.4,919.3 Q2137.7,925.8 2139.6,932.8 Z" fill="#EEF6E6"/>
<path d="M2139.6,932.8 Q2149.9,934.4 2152.0,924.2 Q2146.3,929.2 2139.6,932.8 Z" fill="#EEF6E6"/>
<path d="M2139.6,932.8 Q2152.2,928.3 2160.0,939.1 Q2150.1,935.0 2139.6,932.8 Z" fill="#EEF6E6"/>
<path d="M2139.6,932.8 Q2134.7,946.2 2120.4,946.6 Q2130.6,940.5 2139.6,932.8 Z" fill="#EEF6E6"/>
<path d="M2139.6,932.8 Q2149.9,942.2 2146.5,955.8 Q2143.9,944.0 2139.6,932.8 Z" fill="#EEF6E6"/>
<rect x="2119.1" y="919.2" width="3.4" height="3.4" fill="#EEF6E6" transform="rotate(45 2120.8 920.9)"/>
<rect x="2124.7000000000003" y="915.6" width="2.6" height="2.6" fill="#EEF6E6" transform="rotate(45 2126.0 916.9)"/>
<text x="2140" y="1007.1" font-family="'Liberation Sans', sans-serif" font-size="25" font-weight="bold" text-anchor="middle">TCOD</text>
<rect x="1750.50" y="132.30" width="203.30" height="230.00" fill="#fff" stroke="#D3D3D3" stroke-width="2.2"/>
<rect x="1752.40" y="134.10" width="199.30" height="4.70" fill="#0F5EBE" />
<defs><linearGradient id="bn" x1="0" x2="1" y1="0" y2="0"><stop offset="0" stop-color="#74B83C"/><stop offset="0.5" stop-color="#86C450"/><stop offset="1" stop-color="#9CCB64"/></linearGradient></defs>
<rect x="1752.40" y="138.80" width="199.30" height="20.10" fill="url(#bn)" />
<ellipse cx="1900" cy="147" rx="4.2" ry="7" fill="#A9D47A" opacity="0.6" transform="rotate(25 1900 147)"/>
<ellipse cx="1915" cy="152" rx="3.5999999999999996" ry="6" fill="#A9D47A" opacity="0.6" transform="rotate(25 1915 152)"/>
<ellipse cx="1932" cy="146" rx="4.2" ry="7" fill="#A9D47A" opacity="0.6" transform="rotate(25 1932 146)"/>
<ellipse cx="1945" cy="153" rx="3.0" ry="5" fill="#A9D47A" opacity="0.6" transform="rotate(25 1945 153)"/>
<ellipse cx="1880" cy="150" rx="3.0" ry="5" fill="#A9D47A" opacity="0.6" transform="rotate(25 1880 150)"/>
<rect x="1752.40" y="158.90" width="199.30" height="4.60" fill="#4D9C32" />
<line x1="1757.0" y1="161.2" x2="1765.0" y2="161.2" stroke="#CFE8C2" stroke-width="0.9" opacity="1"/>
<line x1="1769.0" y1="161.2" x2="1777.0" y2="161.2" stroke="#CFE8C2" stroke-width="0.9" opacity="1"/>
<line x1="1786.0" y1="161.2" x2="1794.0" y2="161.2" stroke="#CFE8C2" stroke-width="0.9" opacity="1"/>
<line x1="1803.0" y1="161.2" x2="1811.0" y2="161.2" stroke="#CFE8C2" stroke-width="0.9" opacity="1"/>
<line x1="1821.0" y1="161.2" x2="1829.0" y2="161.2" stroke="#CFE8C2" stroke-width="0.9" opacity="1"/>
<line x1="1843.0" y1="161.2" x2="1851.0" y2="161.2" stroke="#CFE8C2" stroke-width="0.9" opacity="1"/>
<line x1="1857.0" y1="161.2" x2="1865.0" y2="161.2" stroke="#CFE8C2" stroke-width="0.9" opacity="1"/>
<line x1="1870.0" y1="161.2" x2="1878.0" y2="161.2" stroke="#CFE8C2" stroke-width="0.9" opacity="1"/>
<line x1="1888.0" y1="161.2" x2="1896.0" y2="161.2" stroke="#CFE8C2" stroke-width="0.9" opacity="1"/>
<line x1="1755.0" y1="136.4" x2="1762.0" y2="136.4" stroke="#BFD4F0" stroke-width="0.8" opacity="1"/>
<line x1="1770.0" y1="136.4" x2="1776.0" y2="136.4" stroke="#BFD4F0" stroke-width="0.8" opacity="1"/>
<line x1="1889.0" y1="136.4" x2="1895.0" y2="136.4" stroke="#BFD4F0" stroke-width="0.8" opacity="1"/>
<line x1="1900.0" y1="136.4" x2="1904.0" y2="136.4" stroke="#BFD4F0" stroke-width="0.8" opacity="1"/>
<line x1="1908.0" y1="136.4" x2="1915.0" y2="136.4" stroke="#BFD4F0" stroke-width="0.8" opacity="1"/>
<line x1="1920.0" y1="136.4" x2="1927.0" y2="136.4" stroke="#BFD4F0" stroke-width="0.8" opacity="1"/>
<line x1="1936.0" y1="136.4" x2="1941.0" y2="136.4" stroke="#BFD4F0" stroke-width="0.8" opacity="1"/>
<circle cx="1762.5" cy="149" r="4.6" fill="none" stroke="#F2F8EC" stroke-width="0.9"/>
<path d="M1762.5,152.5 L1762.5,146.5 M1760,147.5 L1762.5,146.5 L1765,147.5" stroke="#F2F8EC" stroke-width="0.8" fill="none"/>
<text x="1768.8" y="151.6" font-family="'Liberation Sans', sans-serif" font-size="6.3" font-weight="bold" fill="#F4FAEE" textLength="72.5" lengthAdjust="spacingAndGlyphs">Tropical Crop Omics Database</text>
<rect x="1754.30" y="166.30" width="145.50" height="193.00" fill="#fff" stroke="#F0F0F0" stroke-width="0.6"/>
<line x1="1811.0" y1="172.2" x2="1842.0" y2="172.2" stroke="#666" stroke-width="1.6" opacity="0.8"/>
<line x1="1755.5" y1="177.8" x2="1897.5" y2="177.8" stroke="#A8A8A8" stroke-width="1.0" opacity="0.9"/>
<line x1="1755.5" y1="181.6" x2="1897.5" y2="181.6" stroke="#A8A8A8" stroke-width="1.0" opacity="0.9"/>
<line x1="1755.5" y1="185.3" x2="1897.5" y2="185.3" stroke="#A8A8A8" stroke-width="1.0" opacity="0.9"/>
<line x1="1755.5" y1="189.0" x2="1838.0" y2="189.0" stroke="#A8A8A8" stroke-width="1.0" opacity="0.9"/>
<rect x="1755.50" y="193.30" width="142.00" height="14.40" fill="#A9D18E" />
<rect x="1767.00" y="195.90" width="25.90" height="5.30" fill="#fff" />
<rect x="1797.80" y="195.90" width="26.00" height="5.30" fill="#fff" />
<rect x="1829.00" y="195.90" width="46.20" height="5.30" fill="#fff" />
<rect x="1880.50" y="195.90" width="13.70" height="5.30" fill="#fff" />
<line x1="1836.0" y1="203.2" x2="1875.0" y2="203.2" stroke="#4FA0C8" stroke-width="0.9" opacity="1"/>
<line x1="1755.5" y1="213.2" x2="1779.0" y2="213.2" stroke="#444" stroke-width="1.2" opacity="0.8"/>
<rect x="1756.00" y="217.00" width="26.80" height="21.10" fill="#86A660" />
<rect x="1756.00" y="228.00" width="15.00" height="10.00" fill="#9CB87A" opacity="0.8"/>
<rect x="1771.40" y="217.00" width="9.50" height="21.10" fill="#6E5646" />
<rect x="1776.00" y="217.00" width="2.50" height="21.10" fill="#8C7868" />
<rect x="1780.90" y="217.00" width="1.90" height="21.10" fill="#5E8A40" />
<path d="M1766,226 L1772.5,226 L1772,233.8 L1767,233.8 Z" fill="#1A1A1A"/>
<ellipse cx="1769.2" cy="226.2" rx="3.2" ry="0.9" fill="#F0F0F0"/>
<rect x="1784.90" y="217.00" width="27.00" height="21.10" fill="#3C3834" />
<line x1="1790.0" y1="217.5" x2="1784.0" y2="235" stroke="#B8B8B4" stroke-width="1.1" opacity="0.85"/>
<line x1="1793.1" y1="217.5" x2="1787.1" y2="235" stroke="#B8B8B4" stroke-width="1.1" opacity="0.85"/>
<line x1="1796.2" y1="217.5" x2="1790.2" y2="235" stroke="#B8B8B4" stroke-width="1.1" opacity="0.85"/>
<line x1="1799.3" y1="217.5" x2="1793.3" y2="235" stroke="#B8B8B4" stroke-width="1.1" opacity="0.85"/>
<line x1="1802.4" y1="217.5" x2="1796.4" y2="235" stroke="#B8B8B4" stroke-width="1.1" opacity="0.85"/>
<line x1="1805.5" y1="217.5" x2="1799.5" y2="235" stroke="#B8B8B4" stroke-width="1.1" opacity="0.85"/>
<line x1="1808.6" y1="217.5" x2="1802.6" y2="235" stroke="#B8B8B4" stroke-width="1.1" opacity="0.85"/>
<line x1="1811.7" y1="217.5" x2="1805.7" y2="235" stroke="#B8B8B4" stroke-width="1.1" opacity="0.85"/>
<line x1="1814.8" y1="217.5" x2="1808.8" y2="235" stroke="#B8B8B4" stroke-width="1.1" opacity="0.85"/>
<rect x="1784.90" y="233.00" width="27.00" height="3.50" fill="#8A7A5A" opacity="0.8"/>
<rect x="1784.90" y="236.50" width="27.00" height="1.60" fill="#1A1614" />
<rect x="1813.40" y="217.00" width="27.30" height="21.10" fill="#52A834" />
<rect x="1813.40" y="217.00" width="7.00" height="21.10" fill="#D4E6BC" />
<ellipse cx="1834" cy="222" rx="5" ry="4" fill="#2E8A22" opacity="0.8"/>
<ellipse cx="1837" cy="233" rx="4" ry="5" fill="#3E9A2A" opacity="0.8"/>
<ellipse cx="1823.5" cy="226" rx="1.7" ry="2.1" fill="#F2A848"/>
<ellipse cx="1826.5" cy="224.5" rx="1.7" ry="2.1" fill="#F2A848"/>
<ellipse cx="1829.5" cy="226.5" rx="1.7" ry="2.1" fill="#F2A848"/>
<ellipse cx="1825" cy="229.5" rx="1.7" ry="2.1" fill="#F2A848"/>
<ellipse cx="1828.5" cy="230.5" rx="1.7" ry="2.1" fill="#F2A848"/>
<ellipse cx="1826.5" cy="233.5" rx="1.7" ry="2.1" fill="#F2A848"/>
<ellipse cx="1830" cy="234" rx="1.7" ry="2.1" fill="#F2A848"/>
<rect x="1842.10" y="217.00" width="27.00" height="21.10" fill="#C6A448" />
<rect x="1842.10" y="217.00" width="27.00" height="3.80" fill="#CCDCEC" />
<rect x="1842.10" y="220.80" width="27.00" height="2.00" fill="#8A9A50" opacity="0.8"/>
<ellipse cx="1856" cy="232" rx="3.6" ry="6" fill="#8C7E46"/>
<line x1="1845" y1="224" x2="1846" y2="238" stroke="#E0C060" stroke-width="1" opacity="0.8"/>
<line x1="1849" y1="224" x2="1850" y2="238" stroke="#E0C060" stroke-width="1" opacity="0.8"/>
<line x1="1862" y1="224" x2="1863" y2="238" stroke="#E0C060" stroke-width="1" opacity="0.8"/>
<line x1="1866" y1="224" x2="1867" y2="238" stroke="#E0C060" stroke-width="1" opacity="0.8"/>
<rect x="1870.90" y="217.00" width="26.40" height="21.10" fill="#3A7A2A" />
<rect x="1886.00" y="217.00" width="11.30" height="6.00" fill="#A6D0F0" />
<ellipse cx="1891" cy="226" rx="5" ry="6" fill="#2A6A1E" opacity="0.9"/>
<rect x="1872.40" y="217.00" width="7.60" height="21.10" fill="#CEC6AE" />
<rect x="1872.40" y="224.00" width="7.60" height="1.50" fill="#7E7662" />
<rect x="1870.90" y="217.00" width="1.50" height="21.10" fill="#2A4A1E" />
<line x1="1759.9" y1="240.8" x2="1778.8" y2="240.8" stroke="#6AA8E8" stroke-width="0.9" opacity="1"/>
<line x1="1763.9" y1="244.2" x2="1774.8" y2="244.2" stroke="#6AA8E8" stroke-width="0.9" opacity="1"/>
<line x1="1789.1" y1="240.8" x2="1807.9" y2="240.8" stroke="#6AA8E8" stroke-width="0.9" opacity="1"/>
<line x1="1793.1" y1="244.2" x2="1803.9" y2="244.2" stroke="#6AA8E8" stroke-width="0.9" opacity="1"/>
<line x1="1817.6" y1="240.8" x2="1836.9" y2="240.8" stroke="#6AA8E8" stroke-width="0.9" opacity="1"/>
<line x1="1821.6" y1="244.2" x2="1832.9" y2="244.2" stroke="#6AA8E8" stroke-width="0.9" opacity="1"/>
<line x1="1846.3" y1="240.8" x2="1865.4" y2="240.8" stroke="#6AA8E8" stroke-width="0.9" opacity="1"/>
<line x1="1850.3" y1="244.2" x2="1861.4" y2="244.2" stroke="#6AA8E8" stroke-width="0.9" opacity="1"/>
<line x1="1875.0" y1="240.8" x2="1893.7" y2="240.8" stroke="#6AA8E8" stroke-width="0.9" opacity="1"/>
<line x1="1879.0" y1="244.2" x2="1889.7" y2="244.2" stroke="#6AA8E8" stroke-width="0.9" opacity="1"/>
<circle cx="1813.0" cy="249" r="0.6" fill="#BBB"/>
<circle cx="1815.7" cy="249" r="0.6" fill="#BBB"/>
<circle cx="1818.4" cy="249" r="0.6" fill="#BBB"/>
<circle cx="1821.1" cy="249" r="0.6" fill="#BBB"/>
<circle cx="1823.8" cy="249" r="0.6" fill="#BBB"/>
<circle cx="1826.5" cy="249" r="0.6" fill="#BBB"/>
<circle cx="1829.2" cy="249" r="0.6" fill="#BBB"/>
<circle cx="1831.9" cy="249" r="0.6" fill="#BBB"/>
<circle cx="1834.6" cy="249" r="0.6" fill="#BBB"/>
<circle cx="1837.3" cy="249" r="0.6" fill="#BBB"/>
<circle cx="1840.0" cy="249" r="0.6" fill="#BBB"/>
<circle cx="1842.7" cy="249" r="0.6" fill="#BBB"/>
<line x1="1755.5" y1="255.2" x2="1774.0" y2="255.2" stroke="#444" stroke-width="1.2" opacity="0.8"/>
<rect x="1755.60" y="258.70" width="43.10" height="14.60" fill="#fff" stroke="#EEF3EA" stroke-width="0.5"/>
<line x1="1755.6" y1="259.0" x2="1798.7" y2="259.0" stroke="#A9D18E" stroke-width="0.8" opacity="1"/>
<circle cx="1762.6" cy="266.7" r="3.8" fill="none" stroke="#5CB85C" stroke-width="0.9"/>
<line x1="1777.6" y1="263.2" x2="1787.6" y2="263.2" stroke="#888" stroke-width="0.8" opacity="1"/>
<line x1="1777.6" y1="268.1" x2="1786.6" y2="268.1" stroke="#4E90E8" stroke-width="1.0" opacity="1"/>
<rect x="1804.80" y="258.70" width="43.10" height="14.60" fill="#fff" stroke="#EEF3EA" stroke-width="0.5"/>
<line x1="1804.8" y1="259.0" x2="1847.9" y2="259.0" stroke="#A9D18E" stroke-width="0.8" opacity="1"/>
<circle cx="1811.8" cy="266.7" r="3.8" fill="none" stroke="#5CB85C" stroke-width="0.9"/>
<line x1="1826.8" y1="263.2" x2="1836.8" y2="263.2" stroke="#888" stroke-width="0.8" opacity="1"/>
<line x1="1826.8" y1="268.1" x2="1835.8" y2="268.1" stroke="#4E90E8" stroke-width="1.0" opacity="1"/>
<rect x="1853.70" y="258.70" width="43.10" height="14.60" fill="#fff" stroke="#EEF3EA" stroke-width="0.5"/>
<line x1="1853.7" y1="259.0" x2="1896.8" y2="259.0" stroke="#A9D18E" stroke-width="0.8" opacity="1"/>
<circle cx="1860.7" cy="266.7" r="3.8" fill="none" stroke="#5CB85C" stroke-width="0.9"/>
<line x1="1875.7" y1="263.2" x2="1885.7" y2="263.2" stroke="#888" stroke-width="0.8" opacity="1"/>
<line x1="1875.7" y1="268.1" x2="1884.7" y2="268.1" stroke="#4E90E8" stroke-width="1.0" opacity="1"/>
<rect x="1755.60" y="275.00" width="43.10" height="14.60" fill="#fff" stroke="#EEF3EA" stroke-width="0.5"/>
<line x1="1755.6" y1="275.3" x2="1798.7" y2="275.3" stroke="#A9D18E" stroke-width="0.8" opacity="1"/>
<circle cx="1762.6" cy="283.0" r="3.8" fill="none" stroke="#5CB85C" stroke-width="0.9"/>
<line x1="1777.6" y1="279.5" x2="1787.6" y2="279.5" stroke="#888" stroke-width="0.8" opacity="1"/>
<line x1="1777.6" y1="284.4" x2="1786.6" y2="284.4" stroke="#4E90E8" stroke-width="1.0" opacity="1"/>
<rect x="1804.80" y="275.00" width="43.10" height="14.60" fill="#fff" stroke="#EEF3EA" stroke-width="0.5"/>
<line x1="1804.8" y1="275.3" x2="1847.9" y2="275.3" stroke="#A9D18E" stroke-width="0.8" opacity="1"/>
<circle cx="1811.8" cy="283.0" r="3.8" fill="none" stroke="#5CB85C" stroke-width="0.9"/>
<line x1="1826.8" y1="279.5" x2="1836.8" y2="279.5" stroke="#888" stroke-width="0.8" opacity="1"/>
<line x1="1826.8" y1="284.4" x2="1835.8" y2="284.4" stroke="#4E90E8" stroke-width="1.0" opacity="1"/>
<rect x="1853.70" y="275.00" width="43.10" height="14.60" fill="#fff" stroke="#EEF3EA" stroke-width="0.5"/>
<line x1="1853.7" y1="275.3" x2="1896.8" y2="275.3" stroke="#A9D18E" stroke-width="0.8" opacity="1"/>
<circle cx="1860.7" cy="283.0" r="3.8" fill="none" stroke="#5CB85C" stroke-width="0.9"/>
<line x1="1875.7" y1="279.5" x2="1885.7" y2="279.5" stroke="#888" stroke-width="0.8" opacity="1"/>
<line x1="1875.7" y1="284.4" x2="1884.7" y2="284.4" stroke="#4E90E8" stroke-width="1.0" opacity="1"/>
<line x1="1755.5" y1="294.3" x2="1769.0" y2="294.3" stroke="#444" stroke-width="1.2" opacity="0.8"/>
<line x1="1755.5" y1="299.6" x2="1897.5" y2="299.6" stroke="#8A8A8A" stroke-width="0.9" opacity="1"/>
<line x1="1755.5" y1="303.1" x2="1897.5" y2="303.1" stroke="#8A8A8A" stroke-width="0.9" opacity="1"/>
<line x1="1755.5" y1="306.6" x2="1897.5" y2="306.6" stroke="#8A8A8A" stroke-width="0.9" opacity="1"/>
<line x1="1755.5" y1="310.1" x2="1897.5" y2="310.1" stroke="#8A8A8A" stroke-width="0.9" opacity="1"/>
<line x1="1755.5" y1="313.6" x2="1897.5" y2="313.6" stroke="#8A8A8A" stroke-width="0.9" opacity="1"/>
<line x1="1755.5" y1="319.8" x2="1880.0" y2="319.8" stroke="#B0B0B0" stroke-width="0.8" opacity="1"/>
<line x1="1755.5" y1="325.4" x2="1850.0" y2="325.4" stroke="#B0B0B0" stroke-width="0.8" opacity="1"/>
<line x1="1755.5" y1="333.2" x2="1768.0" y2="333.2" stroke="#444" stroke-width="1.1" opacity="0.8"/>
<line x1="1755.5" y1="338.6" x2="1897.5" y2="338.6" stroke="#888" stroke-width="0.9" opacity="1"/>
<line x1="1755.5" y1="342.2" x2="1800.0" y2="342.2" stroke="#A0A0A0" stroke-width="0.8" opacity="1"/>
<circle cx="1756.7" cy="347.7" r="0.9" fill="#5CB85C"/>
<line x1="1758.5" y1="347.7" x2="1897.5" y2="347.7" stroke="#777" stroke-width="0.9" opacity="1"/>
<line x1="1755.5" y1="351.1" x2="1766.0" y2="351.1" stroke="#777" stroke-width="0.9" opacity="1"/>
<rect x="1905.30" y="166.50" width="46.00" height="45.50" fill="#fff" stroke="#ECECEC" stroke-width="0.5"/>
<rect x="1905.30" y="167.20" width="46.00" height="7.40" fill="#A9D18E" />
<line x1="1909.0" y1="170.9" x2="1915.0" y2="170.9" stroke="#6B8F55" stroke-width="1.0" opacity="1"/>
<line x1="1907.5" y1="179.0" x2="1947.0" y2="179.0" stroke="#A5A5A5" stroke-width="0.7" opacity="1"/>
<line x1="1907.5" y1="182.5" x2="1947.0" y2="182.5" stroke="#A5A5A5" stroke-width="0.7" opacity="1"/>
<line x1="1907.5" y1="186.0" x2="1947.0" y2="186.0" stroke="#A5A5A5" stroke-width="0.7" opacity="1"/>
<line x1="1907.5" y1="189.5" x2="1947.0" y2="189.5" stroke="#A5A5A5" stroke-width="0.7" opacity="1"/>
<line x1="1907.5" y1="193.0" x2="1947.0" y2="193.0" stroke="#A5A5A5" stroke-width="0.7" opacity="1"/>
<line x1="1907.5" y1="196.5" x2="1947.0" y2="196.5" stroke="#A5A5A5" stroke-width="0.7" opacity="1"/>
<line x1="1907.5" y1="200.0" x2="1947.0" y2="200.0" stroke="#A5A5A5" stroke-width="0.7" opacity="1"/>
<line x1="1907.5" y1="203.5" x2="1947.0" y2="203.5" stroke="#A5A5A5" stroke-width="0.7" opacity="1"/>
<line x1="1907.5" y1="207.0" x2="1947.0" y2="207.0" stroke="#A5A5A5" stroke-width="0.7" opacity="1"/>
<rect x="1905.30" y="221.40" width="46.00" height="7.20" fill="#A9D18E" />
<rect x="1905.30" y="228.60" width="46.00" height="21.00" fill="#fff" stroke="#ECECEC" stroke-width="0.5"/>
<line x1="1908.0" y1="233.3" x2="1916.0" y2="233.3" stroke="#4E90E8" stroke-width="0.8" opacity="1"/>
<line x1="1929.0" y1="233.3" x2="1937.0" y2="233.3" stroke="#4E90E8" stroke-width="0.8" opacity="1"/>
<line x1="1908.0" y1="236.8" x2="1916.0" y2="236.8" stroke="#4E90E8" stroke-width="0.8" opacity="1"/>
<line x1="1929.0" y1="236.8" x2="1937.0" y2="236.8" stroke="#4E90E8" stroke-width="0.8" opacity="1"/>
<line x1="1908.0" y1="240.3" x2="1916.0" y2="240.3" stroke="#4E90E8" stroke-width="0.8" opacity="1"/>
<line x1="1929.0" y1="240.3" x2="1937.0" y2="240.3" stroke="#4E90E8" stroke-width="0.8" opacity="1"/>
<line x1="1908.0" y1="243.8" x2="1916.0" y2="243.8" stroke="#4E90E8" stroke-width="0.8" opacity="1"/>
<line x1="1929.0" y1="243.8" x2="1937.0" y2="243.8" stroke="#4E90E8" stroke-width="0.8" opacity="1"/>
<line x1="1908.0" y1="247.2" x2="1916.0" y2="247.2" stroke="#4E90E8" stroke-width="0.8" opacity="1"/>
<rect x="1905.30" y="258.20" width="46.00" height="7.40" fill="#A9D18E" />
<rect x="1907.70" y="267.90" width="41.30" height="19.80" fill="#15194A" />
<ellipse cx="1916" cy="274" rx="3.5" ry="2.5" fill="#5A7A3A"/>
<ellipse cx="1921" cy="281" rx="2" ry="3" fill="#8B3A2A"/>
<ellipse cx="1930" cy="273" rx="5" ry="2.5" fill="#C9C07A"/>
<ellipse cx="1936" cy="276" rx="3" ry="2" fill="#B03030"/>
<ellipse cx="1942" cy="280" rx="2.5" ry="2" fill="#6A8A4A"/>
<ellipse cx="1928" cy="280" rx="1.8" ry="2.5" fill="#C04030"/>
<line x1="1930.0" y1="290.3" x2="1948.0" y2="290.3" stroke="#999" stroke-width="0.7" opacity="1"/>
<line x1="1752.4" y1="360.4" x2="1951.7" y2="360.4" stroke="#6FA3DD" stroke-width="1.1" opacity="1"/>
<rect x="1967.20" y="133.60" width="296.00" height="228.40" fill="#fff" stroke="#D0D0D0" stroke-width="2.2"/>
<g fill="none" stroke="#F6B7B7" stroke-width="0.9"><path d="M1976.2,241.0 C2013.2,241.0 2013.2,226.0 2050.1,226.0"/><path d="M1976.2,241.6 C2013.2,241.6 2013.2,231.0 2050.1,231.0"/><path d="M1976.2,242.3 C2013.2,242.3 2013.2,236.3 2050.1,236.3"/><path d="M1976.2,243.2 C2013.2,243.2 2013.2,244.0 2050.1,244.0"/><path d="M1976.2,244.2 C2013.2,244.2 2013.2,252.0 2050.1,252.0"/><path d="M1976.2,245.1 C2013.2,245.1 2013.2,258.6 2050.1,258.6"/><path d="M1976.2,245.7 C2013.2,245.7 2013.2,263.6 2050.1,263.6"/><path d="M1976.2,246.5 C2013.2,246.5 2013.2,270.0 2050.1,270.0"/><path d="M1976.2,247.2 C2013.2,247.2 2013.2,276.0 2050.1,276.0"/><path d="M1976.2,247.8 C2013.2,247.8 2013.2,280.6 2050.1,280.6"/><path d="M1976.2,248.4 C2013.2,248.4 2013.2,285.5 2050.1,285.5"/><path d="M1976.2,249.1 C2013.2,249.1 2013.2,291.0 2050.1,291.0"/><path d="M1976.2,249.9 C2013.2,249.9 2013.2,297.0 2050.1,297.0"/><path d="M1976.2,250.6 C2013.2,250.6 2013.2,302.5 2050.1,302.5"/></g>
<g fill="none" stroke="#A9C8E6" stroke-width="1.2"><path d="M2056.0,225.2 C2092.9,225.2 2092.9,196.5 2129.9,196.5"/><path d="M2056.0,226.1 C2092.9,226.1 2092.9,200.5 2129.9,200.5"/><path d="M2056.0,225.6 C2092.9,225.6 2092.9,205.5 2129.9,205.5"/><path d="M2056.0,231.3 C2092.9,231.3 2092.9,211.0 2129.9,211.0"/><path d="M2056.0,231.4 C2092.9,231.4 2092.9,216.0 2129.9,216.0"/><path d="M2056.0,235.0 C2092.9,235.0 2092.9,220.8 2129.9,220.8"/><path d="M2056.0,234.8 C2092.9,234.8 2092.9,225.7 2129.9,225.7"/><path d="M2056.0,245.0 C2092.9,245.0 2092.9,229.8 2129.9,229.8"/><path d="M2056.0,243.3 C2092.9,243.3 2092.9,233.8 2129.9,233.8"/><path d="M2056.0,251.2 C2092.9,251.2 2092.9,238.5 2129.9,238.5"/><path d="M2056.0,253.5 C2092.9,253.5 2092.9,243.3 2129.9,243.3"/><path d="M2056.0,258.5 C2092.9,258.5 2092.9,247.3 2129.9,247.3"/><path d="M2056.0,259.6 C2092.9,259.6 2092.9,251.3 2129.9,251.3"/><path d="M2056.0,263.5 C2092.9,263.5 2092.9,255.3 2129.9,255.3"/><path d="M2056.0,264.0 C2092.9,264.0 2092.9,259.2 2129.9,259.2"/><path d="M2056.0,269.0 C2092.9,269.0 2092.9,263.2 2129.9,263.2"/><path d="M2056.0,270.4 C2092.9,270.4 2092.9,269.0 2129.9,269.0"/><path d="M2056.0,277.1 C2092.9,277.1 2092.9,275.5 2129.9,275.5"/><path d="M2056.0,276.1 C2092.9,276.1 2092.9,281.0 2129.9,281.0"/><path d="M2056.0,281.3 C2092.9,281.3 2092.9,287.0 2129.9,287.0"/><path d="M2056.0,281.1 C2092.9,281.1 2092.9,292.8 2129.9,292.8"/><path d="M2056.0,284.2 C2092.9,284.2 2092.9,298.8 2129.9,298.8"/><path d="M2056.0,286.3 C2092.9,286.3 2092.9,303.3 2129.9,303.3"/><path d="M2056.0,291.3 C2092.9,291.3 2092.9,308.3 2129.9,308.3"/><path d="M2056.0,290.4 C2092.9,290.4 2092.9,313.0 2129.9,313.0"/><path d="M2056.0,295.6 C2092.9,295.6 2092.9,325.0 2129.9,325.0"/><path d="M2056.0,298.1 C2092.9,298.1 2092.9,338.5 2129.9,338.5"/><path d="M2056.0,302.4 C2092.9,302.4 2092.9,345.8 2129.9,345.8"/><path d="M2056.0,303.2 C2092.9,303.2 2092.9,351.5 2129.9,351.5"/></g>
<g fill="none" stroke="#C6E6BE" stroke-width="1.2"><path d="M2135.2,197.6 C2172.1,197.6 2172.1,139.0 2209.1,139.0"/><path d="M2135.2,197.1 C2172.1,197.1 2172.1,143.0 2209.1,143.0"/><path d="M2135.2,201.8 C2172.1,201.8 2172.1,147.0 2209.1,147.0"/><path d="M2135.2,200.2 C2172.1,200.2 2172.1,150.9 2209.1,150.9"/><path d="M2135.2,206.4 C2172.1,206.4 2172.1,154.9 2209.1,154.9"/><path d="M2135.2,205.3 C2172.1,205.3 2172.1,158.9 2209.1,158.9"/><path d="M2135.2,212.3 C2172.1,212.3 2172.1,162.9 2209.1,162.9"/><path d="M2135.2,212.1 C2172.1,212.1 2172.1,166.9 2209.1,166.9"/><path d="M2135.2,214.8 C2172.1,214.8 2172.1,170.8 2209.1,170.8"/><path d="M2135.2,214.9 C2172.1,214.9 2172.1,174.8 2209.1,174.8"/><path d="M2135.2,220.0 C2172.1,220.0 2172.1,178.8 2209.1,178.8"/><path d="M2135.2,222.2 C2172.1,222.2 2172.1,182.8 2209.1,182.8"/><path d="M2135.2,225.5 C2172.1,225.5 2172.1,186.8 2209.1,186.8"/><path d="M2135.2,226.1 C2172.1,226.1 2172.1,190.7 2209.1,190.7"/><path d="M2135.2,229.2 C2172.1,229.2 2172.1,194.7 2209.1,194.7"/><path d="M2135.2,229.8 C2172.1,229.8 2172.1,198.7 2209.1,198.7"/><path d="M2135.2,233.5 C2172.1,233.5 2172.1,202.7 2209.1,202.7"/><path d="M2135.2,233.4 C2172.1,233.4 2172.1,206.7 2209.1,206.7"/><path d="M2135.2,238.8 C2172.1,238.8 2172.1,210.6 2209.1,210.6"/><path d="M2135.2,243.6 C2172.1,243.6 2172.1,214.6 2209.1,214.6"/><path d="M2135.2,244.5 C2172.1,244.5 2172.1,218.6 2209.1,218.6"/><path d="M2135.2,247.8 C2172.1,247.8 2172.1,222.6 2209.1,222.6"/><path d="M2135.2,248.6 C2172.1,248.6 2172.1,226.6 2209.1,226.6"/><path d="M2135.2,252.4 C2172.1,252.4 2172.1,230.5 2209.1,230.5"/><path d="M2135.2,252.8 C2172.1,252.8 2172.1,234.5 2209.1,234.5"/><path d="M2135.2,255.8 C2172.1,255.8 2172.1,238.5 2209.1,238.5"/><path d="M2135.2,254.3 C2172.1,254.3 2172.1,242.5 2209.1,242.5"/><path d="M2135.2,260.3 C2172.1,260.3 2172.1,246.4 2209.1,246.4"/><path d="M2135.2,260.6 C2172.1,260.6 2172.1,250.4 2209.1,250.4"/><path d="M2135.2,264.4 C2172.1,264.4 2172.1,254.4 2209.1,254.4"/><path d="M2135.2,263.4 C2172.1,263.4 2172.1,258.4 2209.1,258.4"/><path d="M2135.2,269.6 C2172.1,269.6 2172.1,262.4 2209.1,262.4"/><path d="M2135.2,268.1 C2172.1,268.1 2172.1,266.3 2209.1,266.3"/><path d="M2135.2,276.5 C2172.1,276.5 2172.1,270.3 2209.1,270.3"/><path d="M2135.2,275.7 C2172.1,275.7 2172.1,274.3 2209.1,274.3"/><path d="M2135.2,280.4 C2172.1,280.4 2172.1,278.3 2209.1,278.3"/><path d="M2135.2,279.7 C2172.1,279.7 2172.1,282.3 2209.1,282.3"/><path d="M2135.2,288.1 C2172.1,288.1 2172.1,286.2 2209.1,286.2"/><path d="M2135.2,294.3 C2172.1,294.3 2172.1,290.2 2209.1,290.2"/><path d="M2135.2,291.6 C2172.1,291.6 2172.1,294.2 2209.1,294.2"/><path d="M2135.2,299.7 C2172.1,299.7 2172.1,298.2 2209.1,298.2"/><path d="M2135.2,298.5 C2172.1,298.5 2172.1,302.2 2209.1,302.2"/><path d="M2135.2,302.3 C2172.1,302.3 2172.1,306.1 2209.1,306.1"/><path d="M2135.2,302.7 C2172.1,302.7 2172.1,310.1 2209.1,310.1"/><path d="M2135.2,309.1 C2172.1,309.1 2172.1,314.1 2209.1,314.1"/><path d="M2135.2,309.4 C2172.1,309.4 2172.1,318.1 2209.1,318.1"/><path d="M2135.2,311.6 C2172.1,311.6 2172.1,322.1 2209.1,322.1"/><path d="M2135.2,313.3 C2172.1,313.3 2172.1,326.0 2209.1,326.0"/><path d="M2135.2,323.6 C2172.1,323.6 2172.1,330.0 2209.1,330.0"/><path d="M2135.2,325.7 C2172.1,325.7 2172.1,334.0 2209.1,334.0"/><path d="M2135.2,338.0 C2172.1,338.0 2172.1,338.0 2209.1,338.0"/><path d="M2135.2,339.6 C2172.1,339.6 2172.1,342.0 2209.1,342.0"/><path d="M2135.2,347.2 C2172.1,347.2 2172.1,345.9 2209.1,345.9"/><path d="M2135.2,345.8 C2172.1,345.8 2172.1,349.9 2209.1,349.9"/><path d="M2135.2,353.0 C2172.1,353.0 2172.1,353.9 2209.1,353.9"/></g>
<rect x="1970.60" y="239.40" width="5.60" height="11.50" fill="#F4A3A3" />
<rect x="2050.10" y="224.75" width="5.90" height="2.50" fill="#A9C4E2" />
<line x1="2057.5" y1="226.0" x2="2068.0" y2="226.0" stroke="#BBB" stroke-width="0.9" opacity="1"/>
<rect x="2050.10" y="230.50" width="5.90" height="1.00" fill="#A9C4E2" />
<line x1="2057.5" y1="231.0" x2="2068.0" y2="231.0" stroke="#BBB" stroke-width="0.9" opacity="1"/>
<rect x="2050.10" y="234.30" width="5.90" height="4.00" fill="#A9C4E2" />
<line x1="2057.5" y1="236.3" x2="2068.0" y2="236.3" stroke="#BBB" stroke-width="0.9" opacity="1"/>
<rect x="2050.10" y="242.00" width="5.90" height="4.00" fill="#A9C4E2" />
<line x1="2057.5" y1="244.0" x2="2068.0" y2="244.0" stroke="#BBB" stroke-width="0.9" opacity="1"/>
<rect x="2050.10" y="249.00" width="5.90" height="6.00" fill="#A9C4E2" />
<line x1="2057.5" y1="252.0" x2="2068.0" y2="252.0" stroke="#BBB" stroke-width="0.9" opacity="1"/>
<rect x="2050.10" y="258.10" width="5.90" height="1.00" fill="#A9C4E2" />
<line x1="2057.5" y1="258.6" x2="2068.0" y2="258.6" stroke="#BBB" stroke-width="0.9" opacity="1"/>
<rect x="2050.10" y="262.35" width="5.90" height="2.50" fill="#A9C4E2" />
<line x1="2057.5" y1="263.6" x2="2068.0" y2="263.6" stroke="#BBB" stroke-width="0.9" opacity="1"/>
<rect x="2050.10" y="268.00" width="5.90" height="4.00" fill="#A9C4E2" />
<line x1="2057.5" y1="270.0" x2="2068.0" y2="270.0" stroke="#BBB" stroke-width="0.9" opacity="1"/>
<rect x="2050.10" y="275.50" width="5.90" height="1.00" fill="#A9C4E2" />
<line x1="2057.5" y1="276.0" x2="2068.0" y2="276.0" stroke="#BBB" stroke-width="0.9" opacity="1"/>
<rect x="2050.10" y="280.10" width="5.90" height="1.00" fill="#A9C4E2" />
<line x1="2057.5" y1="280.6" x2="2068.0" y2="280.6" stroke="#BBB" stroke-width="0.9" opacity="1"/>
<rect x="2050.10" y="284.25" width="5.90" height="2.50" fill="#A9C4E2" />
<line x1="2057.5" y1="285.5" x2="2068.0" y2="285.5" stroke="#BBB" stroke-width="0.9" opacity="1"/>
<rect x="2050.10" y="289.75" width="5.90" height="2.50" fill="#A9C4E2" />
<line x1="2057.5" y1="291.0" x2="2068.0" y2="291.0" stroke="#BBB" stroke-width="0.9" opacity="1"/>
<rect x="2050.10" y="295.75" width="5.90" height="2.50" fill="#A9C4E2" />
<line x1="2057.5" y1="297.0" x2="2068.0" y2="297.0" stroke="#BBB" stroke-width="0.9" opacity="1"/>
<rect x="2050.10" y="301.25" width="5.90" height="2.50" fill="#A9C4E2" />
<line x1="2057.5" y1="302.5" x2="2068.0" y2="302.5" stroke="#BBB" stroke-width="0.9" opacity="1"/>
<rect x="2129.90" y="195.20" width="5.30" height="2.60" fill="#CDEAC5" />
<line x1="2137.0" y1="196.5" x2="2159.0" y2="196.5" stroke="#BBB" stroke-width="0.9" opacity="1"/>
<rect x="2129.90" y="199.20" width="5.30" height="2.60" fill="#CDEAC5" />
<line x1="2137.0" y1="200.5" x2="2166.0" y2="200.5" stroke="#BBB" stroke-width="0.9" opacity="1"/>
<rect x="2129.90" y="204.20" width="5.30" height="2.60" fill="#CDEAC5" />
<line x1="2137.0" y1="205.5" x2="2159.0" y2="205.5" stroke="#BBB" stroke-width="0.9" opacity="1"/>
<rect x="2129.90" y="209.70" width="5.30" height="2.60" fill="#CDEAC5" />
<line x1="2137.0" y1="211.0" x2="2166.0" y2="211.0" stroke="#BBB" stroke-width="0.9" opacity="1"/>
<rect x="2129.90" y="214.70" width="5.30" height="2.60" fill="#CDEAC5" />
<line x1="2137.0" y1="216.0" x2="2159.0" y2="216.0" stroke="#BBB" stroke-width="0.9" opacity="1"/>
<rect x="2129.90" y="219.50" width="5.30" height="2.60" fill="#CDEAC5" />
<line x1="2137.0" y1="220.8" x2="2166.0" y2="220.8" stroke="#BBB" stroke-width="0.9" opacity="1"/>
<rect x="2129.90" y="224.40" width="5.30" height="2.60" fill="#CDEAC5" />
<line x1="2137.0" y1="225.7" x2="2159.0" y2="225.7" stroke="#BBB" stroke-width="0.9" opacity="1"/>
<rect x="2129.90" y="228.50" width="5.30" height="2.60" fill="#CDEAC5" />
<line x1="2137.0" y1="229.8" x2="2166.0" y2="229.8" stroke="#BBB" stroke-width="0.9" opacity="1"/>
<rect x="2129.90" y="232.50" width="5.30" height="2.60" fill="#CDEAC5" />
<line x1="2137.0" y1="233.8" x2="2159.0" y2="233.8" stroke="#BBB" stroke-width="0.9" opacity="1"/>
<rect x="2129.90" y="237.20" width="5.30" height="2.60" fill="#CDEAC5" />
<line x1="2137.0" y1="238.5" x2="2166.0" y2="238.5" stroke="#BBB" stroke-width="0.9" opacity="1"/>
<rect x="2129.90" y="242.00" width="5.30" height="2.60" fill="#CDEAC5" />
<line x1="2137.0" y1="243.3" x2="2159.0" y2="243.3" stroke="#BBB" stroke-width="0.9" opacity="1"/>
<rect x="2129.90" y="246.00" width="5.30" height="2.60" fill="#CDEAC5" />
<line x1="2137.0" y1="247.3" x2="2166.0" y2="247.3" stroke="#BBB" stroke-width="0.9" opacity="1"/>
<rect x="2129.90" y="250.00" width="5.30" height="2.60" fill="#CDEAC5" />
<line x1="2137.0" y1="251.3" x2="2159.0" y2="251.3" stroke="#BBB" stroke-width="0.9" opacity="1"/>
<rect x="2129.90" y="254.00" width="5.30" height="2.60" fill="#CDEAC5" />
<line x1="2137.0" y1="255.3" x2="2166.0" y2="255.3" stroke="#BBB" stroke-width="0.9" opacity="1"/>
<rect x="2129.90" y="257.90" width="5.30" height="2.60" fill="#CDEAC5" />
<line x1="2137.0" y1="259.2" x2="2159.0" y2="259.2" stroke="#BBB" stroke-width="0.9" opacity="1"/>
<rect x="2129.90" y="261.90" width="5.30" height="2.60" fill="#CDEAC5" />
<line x1="2137.0" y1="263.2" x2="2166.0" y2="263.2" stroke="#BBB" stroke-width="0.9" opacity="1"/>
<rect x="2129.90" y="267.70" width="5.30" height="2.60" fill="#CDEAC5" />
<line x1="2137.0" y1="269.0" x2="2159.0" y2="269.0" stroke="#BBB" stroke-width="0.9" opacity="1"/>
<rect x="2129.90" y="274.20" width="5.30" height="2.60" fill="#CDEAC5" />
<line x1="2137.0" y1="275.5" x2="2166.0" y2="275.5" stroke="#BBB" stroke-width="0.9" opacity="1"/>
<rect x="2129.90" y="279.70" width="5.30" height="2.60" fill="#CDEAC5" />
<line x1="2137.0" y1="281.0" x2="2159.0" y2="281.0" stroke="#BBB" stroke-width="0.9" opacity="1"/>
<rect x="2129.90" y="285.70" width="5.30" height="2.60" fill="#CDEAC5" />
<line x1="2137.0" y1="287.0" x2="2166.0" y2="287.0" stroke="#BBB" stroke-width="0.9" opacity="1"/>
<rect x="2129.90" y="291.50" width="5.30" height="2.60" fill="#CDEAC5" />
<line x1="2137.0" y1="292.8" x2="2159.0" y2="292.8" stroke="#BBB" stroke-width="0.9" opacity="1"/>
<rect x="2129.90" y="297.50" width="5.30" height="2.60" fill="#CDEAC5" />
<line x1="2137.0" y1="298.8" x2="2166.0" y2="298.8" stroke="#BBB" stroke-width="0.9" opacity="1"/>
<rect x="2129.90" y="302.00" width="5.30" height="2.60" fill="#CDEAC5" />
<line x1="2137.0" y1="303.3" x2="2159.0" y2="303.3" stroke="#BBB" stroke-width="0.9" opacity="1"/>
<rect x="2129.90" y="307.00" width="5.30" height="2.60" fill="#CDEAC5" />
<line x1="2137.0" y1="308.3" x2="2166.0" y2="308.3" stroke="#BBB" stroke-width="0.9" opacity="1"/>
<rect x="2129.90" y="311.70" width="5.30" height="2.60" fill="#CDEAC5" />
<line x1="2137.0" y1="313.0" x2="2159.0" y2="313.0" stroke="#BBB" stroke-width="0.9" opacity="1"/>
<rect x="2129.90" y="318.00" width="5.30" height="14.00" fill="#CDEAC5" />
<line x1="2137.0" y1="325.0" x2="2166.0" y2="325.0" stroke="#BBB" stroke-width="0.9" opacity="1"/>
<rect x="2129.90" y="336.00" width="5.30" height="5.00" fill="#CDEAC5" />
<line x1="2137.0" y1="338.5" x2="2159.0" y2="338.5" stroke="#BBB" stroke-width="0.9" opacity="1"/>
<rect x="2129.90" y="344.50" width="5.30" height="2.60" fill="#CDEAC5" />
<line x1="2137.0" y1="345.8" x2="2166.0" y2="345.8" stroke="#BBB" stroke-width="0.9" opacity="1"/>
<rect x="2129.90" y="350.20" width="5.30" height="2.60" fill="#CDEAC5" />
<line x1="2137.0" y1="351.5" x2="2159.0" y2="351.5" stroke="#BBB" stroke-width="0.9" opacity="1"/>
<rect x="2209.10" y="138.00" width="5.30" height="2.00" fill="#E2B8E6" />
<line x1="2216.0" y1="139.0" x2="2232.0" y2="139.0" stroke="#BBB" stroke-width="0.9" opacity="1"/>
<rect x="2209.10" y="141.98" width="5.30" height="2.00" fill="#E2B8E6" />
<line x1="2216.0" y1="143.0" x2="2237.0" y2="143.0" stroke="#BBB" stroke-width="0.9" opacity="1"/>
<rect x="2209.10" y="145.96" width="5.30" height="2.00" fill="#E2B8E6" />
<line x1="2216.0" y1="147.0" x2="2242.0" y2="147.0" stroke="#BBB" stroke-width="0.9" opacity="1"/>
<rect x="2209.10" y="149.94" width="5.30" height="2.00" fill="#E2B8E6" />
<line x1="2216.0" y1="150.9" x2="2233.0" y2="150.9" stroke="#BBB" stroke-width="0.9" opacity="1"/>
<rect x="2209.10" y="153.92" width="5.30" height="2.00" fill="#E2B8E6" />
<line x1="2216.0" y1="154.9" x2="2238.0" y2="154.9" stroke="#BBB" stroke-width="0.9" opacity="1"/>
<rect x="2209.10" y="157.90" width="5.30" height="2.00" fill="#E2B8E6" />
<line x1="2216.0" y1="158.9" x2="2243.0" y2="158.9" stroke="#BBB" stroke-width="0.9" opacity="1"/>
<rect x="2209.10" y="161.88" width="5.30" height="2.00" fill="#E2B8E6" />
<line x1="2216.0" y1="162.9" x2="2234.0" y2="162.9" stroke="#BBB" stroke-width="0.9" opacity="1"/>
<rect x="2209.10" y="165.86" width="5.30" height="2.00" fill="#E2B8E6" />
<line x1="2216.0" y1="166.9" x2="2239.0" y2="166.9" stroke="#BBB" stroke-width="0.9" opacity="1"/>
<rect x="2209.10" y="169.84" width="5.30" height="2.00" fill="#E2B8E6" />
<line x1="2216.0" y1="170.8" x2="2244.0" y2="170.8" stroke="#BBB" stroke-width="0.9" opacity="1"/>
<rect x="2209.10" y="173.82" width="5.30" height="2.00" fill="#E2B8E6" />
<line x1="2216.0" y1="174.8" x2="2235.0" y2="174.8" stroke="#BBB" stroke-width="0.9" opacity="1"/>
<rect x="2209.10" y="177.80" width="5.30" height="2.00" fill="#E2B8E6" />
<line x1="2216.0" y1="178.8" x2="2240.0" y2="178.8" stroke="#BBB" stroke-width="0.9" opacity="1"/>
<rect x="2209.10" y="181.78" width="5.30" height="2.00" fill="#E2B8E6" />
<line x1="2216.0" y1="182.8" x2="2245.0" y2="182.8" stroke="#BBB" stroke-width="0.9" opacity="1"/>
<rect x="2209.10" y="185.76" width="5.30" height="2.00" fill="#E2B8E6" />
<line x1="2216.0" y1="186.8" x2="2236.0" y2="186.8" stroke="#BBB" stroke-width="0.9" opacity="1"/>
<rect x="2209.10" y="189.74" width="5.30" height="2.00" fill="#E2B8E6" />
<line x1="2216.0" y1="190.7" x2="2241.0" y2="190.7" stroke="#BBB" stroke-width="0.9" opacity="1"/>
<rect x="2209.10" y="193.71" width="5.30" height="2.00" fill="#E2B8E6" />
<line x1="2216.0" y1="194.7" x2="2232.0" y2="194.7" stroke="#BBB" stroke-width="0.9" opacity="1"/>
<rect x="2209.10" y="197.69" width="5.30" height="2.00" fill="#E2B8E6" />
<line x1="2216.0" y1="198.7" x2="2237.0" y2="198.7" stroke="#BBB" stroke-width="0.9" opacity="1"/>
<rect x="2209.10" y="201.67" width="5.30" height="2.00" fill="#E2B8E6" />
<line x1="2216.0" y1="202.7" x2="2242.0" y2="202.7" stroke="#BBB" stroke-width="0.9" opacity="1"/>
<rect x="2209.10" y="205.65" width="5.30" height="2.00" fill="#E2B8E6" />
<line x1="2216.0" y1="206.7" x2="2233.0" y2="206.7" stroke="#BBB" stroke-width="0.9" opacity="1"/>
<rect x="2209.10" y="209.63" width="5.30" height="2.00" fill="#E2B8E6" />
<line x1="2216.0" y1="210.6" x2="2238.0" y2="210.6" stroke="#BBB" stroke-width="0.9" opacity="1"/>
<rect x="2209.10" y="213.61" width="5.30" height="2.00" fill="#E2B8E6" />
<line x1="2216.0" y1="214.6" x2="2243.0" y2="214.6" stroke="#BBB" stroke-width="0.9" opacity="1"/>
<rect x="2209.10" y="217.59" width="5.30" height="2.00" fill="#E2B8E6" />
<line x1="2216.0" y1="218.6" x2="2234.0" y2="218.6" stroke="#BBB" stroke-width="0.9" opacity="1"/>
<rect x="2209.10" y="221.57" width="5.30" height="2.00" fill="#E2B8E6" />
<line x1="2216.0" y1="222.6" x2="2239.0" y2="222.6" stroke="#BBB" stroke-width="0.9" opacity="1"/>
<rect x="2209.10" y="225.55" width="5.30" height="2.00" fill="#E2B8E6" />
<line x1="2216.0" y1="226.6" x2="2244.0" y2="226.6" stroke="#BBB" stroke-width="0.9" opacity="1"/>
<rect x="2209.10" y="229.53" width="5.30" height="2.00" fill="#E2B8E6" />
<line x1="2216.0" y1="230.5" x2="2235.0" y2="230.5" stroke="#BBB" stroke-width="0.9" opacity="1"/>
<rect x="2209.10" y="233.51" width="5.30" height="2.00" fill="#E2B8E6" />
<line x1="2216.0" y1="234.5" x2="2240.0" y2="234.5" stroke="#BBB" stroke-width="0.9" opacity="1"/>
<rect x="2209.10" y="237.49" width="5.30" height="2.00" fill="#E2B8E6" />
<line x1="2216.0" y1="238.5" x2="2245.0" y2="238.5" stroke="#BBB" stroke-width="0.9" opacity="1"/>
<rect x="2209.10" y="241.47" width="5.30" height="2.00" fill="#E2B8E6" />
<line x1="2216.0" y1="242.5" x2="2236.0" y2="242.5" stroke="#BBB" stroke-width="0.9" opacity="1"/>
<rect x="2209.10" y="245.45" width="5.30" height="2.00" fill="#E2B8E6" />
<line x1="2216.0" y1="246.4" x2="2241.0" y2="246.4" stroke="#BBB" stroke-width="0.9" opacity="1"/>
<rect x="2209.10" y="249.43" width="5.30" height="2.00" fill="#E2B8E6" />
<line x1="2216.0" y1="250.4" x2="2232.0" y2="250.4" stroke="#BBB" stroke-width="0.9" opacity="1"/>
<rect x="2209.10" y="253.41" width="5.30" height="2.00" fill="#E2B8E6" />
<line x1="2216.0" y1="254.4" x2="2237.0" y2="254.4" stroke="#BBB" stroke-width="0.9" opacity="1"/>
<rect x="2209.10" y="257.39" width="5.30" height="2.00" fill="#E2B8E6" />
<line x1="2216.0" y1="258.4" x2="2242.0" y2="258.4" stroke="#BBB" stroke-width="0.9" opacity="1"/>
<rect x="2209.10" y="261.37" width="5.30" height="2.00" fill="#E2B8E6" />
<line x1="2216.0" y1="262.4" x2="2233.0" y2="262.4" stroke="#BBB" stroke-width="0.9" opacity="1"/>
<rect x="2209.10" y="265.35" width="5.30" height="2.00" fill="#E2B8E6" />
<line x1="2216.0" y1="266.3" x2="2238.0" y2="266.3" stroke="#BBB" stroke-width="0.9" opacity="1"/>
<rect x="2209.10" y="269.33" width="5.30" height="2.00" fill="#E2B8E6" />
<line x1="2216.0" y1="270.3" x2="2243.0" y2="270.3" stroke="#BBB" stroke-width="0.9" opacity="1"/>
<rect x="2209.10" y="273.31" width="5.30" height="2.00" fill="#E2B8E6" />
<line x1="2216.0" y1="274.3" x2="2234.0" y2="274.3" stroke="#BBB" stroke-width="0.9" opacity="1"/>
<rect x="2209.10" y="277.29" width="5.30" height="2.00" fill="#E2B8E6" />
<line x1="2216.0" y1="278.3" x2="2239.0" y2="278.3" stroke="#BBB" stroke-width="0.9" opacity="1"/>
<rect x="2209.10" y="281.27" width="5.30" height="2.00" fill="#E2B8E6" />
<line x1="2216.0" y1="282.3" x2="2244.0" y2="282.3" stroke="#BBB" stroke-width="0.9" opacity="1"/>
<rect x="2209.10" y="285.25" width="5.30" height="2.00" fill="#E2B8E6" />
<line x1="2216.0" y1="286.2" x2="2235.0" y2="286.2" stroke="#BBB" stroke-width="0.9" opacity="1"/>
<rect x="2209.10" y="289.23" width="5.30" height="2.00" fill="#E2B8E6" />
<line x1="2216.0" y1="290.2" x2="2240.0" y2="290.2" stroke="#BBB" stroke-width="0.9" opacity="1"/>
<rect x="2209.10" y="293.21" width="5.30" height="2.00" fill="#E2B8E6" />
<line x1="2216.0" y1="294.2" x2="2245.0" y2="294.2" stroke="#BBB" stroke-width="0.9" opacity="1"/>
<rect x="2209.10" y="297.19" width="5.30" height="2.00" fill="#E2B8E6" />
<line x1="2216.0" y1="298.2" x2="2236.0" y2="298.2" stroke="#BBB" stroke-width="0.9" opacity="1"/>
<rect x="2209.10" y="301.16" width="5.30" height="2.00" fill="#E2B8E6" />
<line x1="2216.0" y1="302.2" x2="2241.0" y2="302.2" stroke="#BBB" stroke-width="0.9" opacity="1"/>
<rect x="2209.10" y="305.14" width="5.30" height="2.00" fill="#E2B8E6" />
<line x1="2216.0" y1="306.1" x2="2232.0" y2="306.1" stroke="#BBB" stroke-width="0.9" opacity="1"/>
<rect x="2209.10" y="309.12" width="5.30" height="2.00" fill="#E2B8E6" />
<line x1="2216.0" y1="310.1" x2="2237.0" y2="310.1" stroke="#BBB" stroke-width="0.9" opacity="1"/>
<rect x="2209.10" y="313.10" width="5.30" height="2.00" fill="#E2B8E6" />
<line x1="2216.0" y1="314.1" x2="2242.0" y2="314.1" stroke="#BBB" stroke-width="0.9" opacity="1"/>
<rect x="2209.10" y="317.08" width="5.30" height="2.00" fill="#E2B8E6" />
<line x1="2216.0" y1="318.1" x2="2233.0" y2="318.1" stroke="#BBB" stroke-width="0.9" opacity="1"/>
<rect x="2209.10" y="321.06" width="5.30" height="2.00" fill="#E2B8E6" />
<line x1="2216.0" y1="322.1" x2="2238.0" y2="322.1" stroke="#BBB" stroke-width="0.9" opacity="1"/>
<rect x="2209.10" y="325.04" width="5.30" height="2.00" fill="#E2B8E6" />
<line x1="2216.0" y1="326.0" x2="2243.0" y2="326.0" stroke="#BBB" stroke-width="0.9" opacity="1"/>
<rect x="2209.10" y="329.02" width="5.30" height="2.00" fill="#E2B8E6" />
<line x1="2216.0" y1="330.0" x2="2234.0" y2="330.0" stroke="#BBB" stroke-width="0.9" opacity="1"/>
<rect x="2209.10" y="333.00" width="5.30" height="2.00" fill="#E2B8E6" />
<line x1="2216.0" y1="334.0" x2="2239.0" y2="334.0" stroke="#BBB" stroke-width="0.9" opacity="1"/>
<rect x="2209.10" y="336.98" width="5.30" height="2.00" fill="#E2B8E6" />
<line x1="2216.0" y1="338.0" x2="2244.0" y2="338.0" stroke="#BBB" stroke-width="0.9" opacity="1"/>
<rect x="2209.10" y="340.96" width="5.30" height="2.00" fill="#E2B8E6" />
<line x1="2216.0" y1="342.0" x2="2235.0" y2="342.0" stroke="#BBB" stroke-width="0.9" opacity="1"/>
<rect x="2209.10" y="344.94" width="5.30" height="2.00" fill="#E2B8E6" />
<line x1="2216.0" y1="345.9" x2="2240.0" y2="345.9" stroke="#BBB" stroke-width="0.9" opacity="1"/>
<rect x="2209.10" y="348.92" width="5.30" height="2.00" fill="#E2B8E6" />
<line x1="2216.0" y1="349.9" x2="2245.0" y2="349.9" stroke="#BBB" stroke-width="0.9" opacity="1"/>
<rect x="2209.10" y="352.90" width="5.30" height="2.00" fill="#E2B8E6" />
<line x1="2216.0" y1="353.9" x2="2236.0" y2="353.9" stroke="#BBB" stroke-width="0.9" opacity="1"/>
<rect x="2276.10" y="132.40" width="241.60" height="227.40" fill="#fff" stroke="#D0D0D0" stroke-width="2.2"/>
<line x1="2281.5" y1="140.8" x2="2327.0" y2="140.8" stroke="#555" stroke-width="1.4" opacity="0.8"/>
<line x1="2281.5" y1="148.3" x2="2501.0" y2="148.3" stroke="#999" stroke-width="0.9" opacity="1"/>
<line x1="2281.5" y1="153.0" x2="2292.0" y2="153.0" stroke="#999" stroke-width="0.9" opacity="1"/>
<circle cx="2283.8" cy="160.6" r="2" fill="none" stroke="#5CB85C" stroke-width="0.8"/>
<line x1="2287.2" y1="160.6" x2="2310.0" y2="160.6" stroke="#666" stroke-width="1.0" opacity="1"/>
<circle cx="2283.8" cy="177.5" r="2" fill="none" stroke="#5CB85C" stroke-width="0.8"/>
<line x1="2287.2" y1="177.5" x2="2310.0" y2="177.5" stroke="#666" stroke-width="1.0" opacity="1"/>
<circle cx="2283.8" cy="234.8" r="2" fill="none" stroke="#5CB85C" stroke-width="0.8"/>
<line x1="2287.2" y1="234.8" x2="2310.0" y2="234.8" stroke="#666" stroke-width="1.0" opacity="1"/>
<circle cx="2283.8" cy="251.7" r="2" fill="none" stroke="#5CB85C" stroke-width="0.8"/>
<line x1="2287.2" y1="251.7" x2="2310.0" y2="251.7" stroke="#666" stroke-width="1.0" opacity="1"/>
<rect x="2281.40" y="166.70" width="52.80" height="5.80" fill="#fff" stroke="#DDD" stroke-width="0.5"/>
<rect x="2281.40" y="182.80" width="52.80" height="47.30" fill="#fff" stroke="#DDD" stroke-width="0.5"/>
<line x1="2284.0" y1="185.8" x2="2298.0" y2="185.8" stroke="#AAA" stroke-width="0.8" opacity="1"/>
<line x1="2284.0" y1="189.9" x2="2298.0" y2="189.9" stroke="#AAA" stroke-width="0.8" opacity="1"/>
<line x1="2284.0" y1="194.0" x2="2298.0" y2="194.0" stroke="#AAA" stroke-width="0.8" opacity="1"/>
<line x1="2284.0" y1="198.1" x2="2298.0" y2="198.1" stroke="#AAA" stroke-width="0.8" opacity="1"/>
<line x1="2284.0" y1="202.2" x2="2298.0" y2="202.2" stroke="#AAA" stroke-width="0.8" opacity="1"/>
<line x1="2284.0" y1="206.3" x2="2298.0" y2="206.3" stroke="#AAA" stroke-width="0.8" opacity="1"/>
<line x1="2284.0" y1="210.4" x2="2298.0" y2="210.4" stroke="#AAA" stroke-width="0.8" opacity="1"/>
<line x1="2284.0" y1="214.5" x2="2298.0" y2="214.5" stroke="#AAA" stroke-width="0.8" opacity="1"/>
<line x1="2284.0" y1="218.6" x2="2298.0" y2="218.6" stroke="#AAA" stroke-width="0.8" opacity="1"/>
<line x1="2284.0" y1="222.7" x2="2298.0" y2="222.7" stroke="#AAA" stroke-width="0.8" opacity="1"/>
<line x1="2284.0" y1="226.8" x2="2298.0" y2="226.8" stroke="#AAA" stroke-width="0.8" opacity="1"/>
<rect x="2331.50" y="186.00" width="2.00" height="12.00" fill="#C8C8C8" />
<rect x="2281.40" y="240.30" width="52.80" height="5.80" fill="#fff" stroke="#DDD" stroke-width="0.5"/>
<rect x="2281.40" y="257.30" width="52.80" height="5.80" fill="#fff" stroke="#DDD" stroke-width="0.5"/>
<rect x="2281.40" y="266.30" width="52.80" height="6.20" fill="#4CAF50" />
<line x1="2291.0" y1="269.4" x2="2326.0" y2="269.4" stroke="#D8F0D8" stroke-width="0.9" opacity="1"/>
<rect x="2281.60" y="279.30" width="26.70" height="5.50" fill="#fff" stroke="#5CB85C" stroke-width="0.5"/>
<line x1="2284.0" y1="282.0" x2="2305.0" y2="282.0" stroke="#8CCB8C" stroke-width="0.8" opacity="1"/>
<line x1="2281.5" y1="290.0" x2="2318.0" y2="290.0" stroke="#888" stroke-width="0.9" opacity="1"/>
<line x1="2468.0" y1="288.3" x2="2474.0" y2="288.3" stroke="#999" stroke-width="0.8" opacity="1"/>
<rect x="2478.00" y="285.50" width="34.00" height="5.00" fill="#fff" stroke="#E8E8E8" stroke-width="0.5"/>
<line x1="2400.5" y1="169" x2="2400.5" y2="265" stroke="#DDD" stroke-width="0.6"/>
<line x1="2419.7" y1="169" x2="2419.7" y2="265" stroke="#EEE" stroke-width="0.5"/>
<line x1="2439" y1="169" x2="2439" y2="265" stroke="#EEE" stroke-width="0.5"/>
<line x1="2458.2" y1="169" x2="2458.2" y2="265" stroke="#EEE" stroke-width="0.5"/>
<line x1="2477.5" y1="169" x2="2477.5" y2="265" stroke="#EEE" stroke-width="0.5"/>
<line x1="2400.5" y1="172.2" x2="2477.5" y2="172.2" stroke="#F0F0F0" stroke-width="0.5"/>
<line x1="2379.0" y1="172.2" x2="2399.0" y2="172.2" stroke="#AAA" stroke-width="0.8" opacity="1"/>
<line x1="2400.5" y1="176.9" x2="2477.5" y2="176.9" stroke="#F0F0F0" stroke-width="0.5"/>
<line x1="2384.0" y1="176.9" x2="2399.0" y2="176.9" stroke="#AAA" stroke-width="0.8" opacity="1"/>
<line x1="2400.5" y1="181.7" x2="2477.5" y2="181.7" stroke="#F0F0F0" stroke-width="0.5"/>
<line x1="2381.0" y1="181.7" x2="2399.0" y2="181.7" stroke="#AAA" stroke-width="0.8" opacity="1"/>
<line x1="2400.5" y1="186.4" x2="2477.5" y2="186.4" stroke="#F0F0F0" stroke-width="0.5"/>
<line x1="2382.0" y1="186.4" x2="2399.0" y2="186.4" stroke="#AAA" stroke-width="0.8" opacity="1"/>
<line x1="2400.5" y1="191.2" x2="2477.5" y2="191.2" stroke="#F0F0F0" stroke-width="0.5"/>
<line x1="2373.0" y1="191.2" x2="2399.0" y2="191.2" stroke="#AAA" stroke-width="0.8" opacity="1"/>
<line x1="2400.5" y1="195.9" x2="2477.5" y2="195.9" stroke="#F0F0F0" stroke-width="0.5"/>
<line x1="2369.0" y1="195.9" x2="2399.0" y2="195.9" stroke="#AAA" stroke-width="0.8" opacity="1"/>
<line x1="2400.5" y1="200.7" x2="2477.5" y2="200.7" stroke="#F0F0F0" stroke-width="0.5"/>
<line x1="2380.0" y1="200.7" x2="2399.0" y2="200.7" stroke="#AAA" stroke-width="0.8" opacity="1"/>
<line x1="2400.5" y1="205.4" x2="2477.5" y2="205.4" stroke="#F0F0F0" stroke-width="0.5"/>
<line x1="2380.0" y1="205.4" x2="2399.0" y2="205.4" stroke="#AAA" stroke-width="0.8" opacity="1"/>
<line x1="2400.5" y1="210.1" x2="2477.5" y2="210.1" stroke="#F0F0F0" stroke-width="0.5"/>
<line x1="2383.0" y1="210.1" x2="2399.0" y2="210.1" stroke="#AAA" stroke-width="0.8" opacity="1"/>
<line x1="2400.5" y1="214.9" x2="2477.5" y2="214.9" stroke="#F0F0F0" stroke-width="0.5"/>
<line x1="2381.0" y1="214.9" x2="2399.0" y2="214.9" stroke="#AAA" stroke-width="0.8" opacity="1"/>
<line x1="2400.5" y1="219.6" x2="2477.5" y2="219.6" stroke="#F0F0F0" stroke-width="0.5"/>
<line x1="2373.0" y1="219.6" x2="2399.0" y2="219.6" stroke="#AAA" stroke-width="0.8" opacity="1"/>
<line x1="2400.5" y1="224.4" x2="2477.5" y2="224.4" stroke="#F0F0F0" stroke-width="0.5"/>
<line x1="2379.0" y1="224.4" x2="2399.0" y2="224.4" stroke="#AAA" stroke-width="0.8" opacity="1"/>
<line x1="2400.5" y1="229.1" x2="2477.5" y2="229.1" stroke="#F0F0F0" stroke-width="0.5"/>
<line x1="2379.0" y1="229.1" x2="2399.0" y2="229.1" stroke="#AAA" stroke-width="0.8" opacity="1"/>
<line x1="2400.5" y1="233.8" x2="2477.5" y2="233.8" stroke="#F0F0F0" stroke-width="0.5"/>
<line x1="2381.0" y1="233.8" x2="2399.0" y2="233.8" stroke="#AAA" stroke-width="0.8" opacity="1"/>
<line x1="2400.5" y1="238.6" x2="2477.5" y2="238.6" stroke="#F0F0F0" stroke-width="0.5"/>
<line x1="2371.0" y1="238.6" x2="2399.0" y2="238.6" stroke="#AAA" stroke-width="0.8" opacity="1"/>
<line x1="2400.5" y1="243.3" x2="2477.5" y2="243.3" stroke="#F0F0F0" stroke-width="0.5"/>
<line x1="2373.0" y1="243.3" x2="2399.0" y2="243.3" stroke="#AAA" stroke-width="0.8" opacity="1"/>
<line x1="2400.5" y1="248.1" x2="2477.5" y2="248.1" stroke="#F0F0F0" stroke-width="0.5"/>
<line x1="2371.0" y1="248.1" x2="2399.0" y2="248.1" stroke="#AAA" stroke-width="0.8" opacity="1"/>
<line x1="2400.5" y1="252.8" x2="2477.5" y2="252.8" stroke="#F0F0F0" stroke-width="0.5"/>
<line x1="2379.0" y1="252.8" x2="2399.0" y2="252.8" stroke="#AAA" stroke-width="0.8" opacity="1"/>
<line x1="2400.5" y1="257.6" x2="2477.5" y2="257.6" stroke="#F0F0F0" stroke-width="0.5"/>
<line x1="2382.0" y1="257.6" x2="2399.0" y2="257.6" stroke="#AAA" stroke-width="0.8" opacity="1"/>
<line x1="2400.5" y1="262.3" x2="2477.5" y2="262.3" stroke="#F0F0F0" stroke-width="0.5"/>
<line x1="2377.0" y1="262.3" x2="2399.0" y2="262.3" stroke="#AAA" stroke-width="0.8" opacity="1"/>
<circle cx="2424.5" cy="172.2" r="0.8" fill="#2B2BE0"/>
<circle cx="2448.6" cy="176.9" r="2.7" fill="#5050E0"/>
<circle cx="2448.6" cy="181.7" r="2.7" fill="#5A48D8"/>
<circle cx="2448.6" cy="186.4" r="2.7" fill="#A03070"/>
<circle cx="2448.6" cy="191.2" r="2.7" fill="#B03060"/>
<circle cx="2448.6" cy="195.9" r="2.7" fill="#B83050"/>
<circle cx="2460.5" cy="200.7" r="3.8" fill="#C83048"/>
<circle cx="2448.6" cy="205.4" r="2.7" fill="#E02828"/>
<circle cx="2448.6" cy="210.1" r="2.7" fill="#E02828"/>
<circle cx="2472.4" cy="214.9" r="4.7" fill="#E82828"/>
<circle cx="2448.6" cy="219.6" r="2.7" fill="#E82828"/>
<circle cx="2448.6" cy="224.4" r="2.7" fill="#E82828"/>
<circle cx="2448.6" cy="229.1" r="2.7" fill="#E82828"/>
<circle cx="2448.6" cy="233.8" r="2.7" fill="#E82828"/>
<circle cx="2472.4" cy="238.6" r="4.7" fill="#E82828"/>
<circle cx="2448.6" cy="243.3" r="2.7" fill="#E82828"/>
<circle cx="2448.6" cy="248.1" r="2.7" fill="#E82828"/>
<circle cx="2448.6" cy="252.8" r="2.7" fill="#E82828"/>
<circle cx="2472.4" cy="257.6" r="4.7" fill="#E82828"/>
<circle cx="2448.6" cy="262.3" r="2.7" fill="#E82828"/>
<line x1="2430.0" y1="271.8" x2="2446.0" y2="271.8" stroke="#BBB" stroke-width="0.7" opacity="1"/>
<polygon points="2503,179 2510,179 2507,203 2505.5,203" fill="#888"/>
<line x1="2502.0" y1="172.2" x2="2508.0" y2="172.2" stroke="#AAA" stroke-width="0.7" opacity="1"/>
<defs><linearGradient id="cb" x1="0" x2="0" y1="0" y2="1"><stop offset="0" stop-color="#2020F0"/><stop offset="1" stop-color="#F01010"/></linearGradient></defs>
<rect x="2504.30" y="244.50" width="4.10" height="24.50" fill="url(#cb)" />
<line x1="2488.0" y1="244.8" x2="2501.0" y2="244.8" stroke="#AAA" stroke-width="0.7" opacity="1"/>
<line x1="2488.0" y1="268.3" x2="2501.0" y2="268.3" stroke="#AAA" stroke-width="0.7" opacity="1"/>
<line x1="2503.0" y1="237.6" x2="2510.0" y2="237.6" stroke="#AAA" stroke-width="0.7" opacity="1"/>
<rect x="2281.50" y="293.50" width="230.50" height="66.50" fill="#fff" stroke="#E4E4E4" stroke-width="0.5"/>
<line x1="2302.7" y1="293.5" x2="2302.7" y2="360" stroke="#EEE" stroke-width="0.5"/>
<line x1="2322.4" y1="293.5" x2="2322.4" y2="360" stroke="#EEE" stroke-width="0.5"/>
<line x1="2366.1" y1="293.5" x2="2366.1" y2="360" stroke="#EEE" stroke-width="0.5"/>
<line x1="2388.5" y1="293.5" x2="2388.5" y2="360" stroke="#EEE" stroke-width="0.5"/>
<line x1="2407.4" y1="293.5" x2="2407.4" y2="360" stroke="#EEE" stroke-width="0.5"/>
<line x1="2429.7" y1="293.5" x2="2429.7" y2="360" stroke="#EEE" stroke-width="0.5"/>
<line x1="2452.3" y1="293.5" x2="2452.3" y2="360" stroke="#EEE" stroke-width="0.5"/>
<line x1="2475.2" y1="293.5" x2="2475.2" y2="360" stroke="#EEE" stroke-width="0.5"/>
<line x1="2491.4" y1="293.5" x2="2491.4" y2="360" stroke="#EEE" stroke-width="0.5"/>
<line x1="2281.5" y1="305.5" x2="2512" y2="305.5" stroke="#DDD" stroke-width="0.7"/>
<line x1="2281.5" y1="323" x2="2512" y2="323" stroke="#EEE" stroke-width="0.5"/>
<line x1="2281.5" y1="341" x2="2512" y2="341" stroke="#EEE" stroke-width="0.5"/>
<line x1="2283.5" y1="301.0" x2="2293.5" y2="301.0" stroke="#555" stroke-width="1.0" opacity="0.9"/>
<line x1="2304.7" y1="301.0" x2="2314.7" y2="301.0" stroke="#555" stroke-width="1.0" opacity="0.9"/>
<line x1="2324.4" y1="301.0" x2="2334.4" y2="301.0" stroke="#555" stroke-width="1.0" opacity="0.9"/>
<line x1="2368.1" y1="301.0" x2="2378.1" y2="301.0" stroke="#555" stroke-width="1.0" opacity="0.9"/>
<line x1="2390.5" y1="301.0" x2="2400.5" y2="301.0" stroke="#555" stroke-width="1.0" opacity="0.9"/>
<line x1="2409.4" y1="301.0" x2="2419.4" y2="301.0" stroke="#555" stroke-width="1.0" opacity="0.9"/>
<line x1="2431.7" y1="301.0" x2="2441.7" y2="301.0" stroke="#555" stroke-width="1.0" opacity="0.9"/>
<line x1="2454.3" y1="301.0" x2="2464.3" y2="301.0" stroke="#555" stroke-width="1.0" opacity="0.9"/>
<line x1="2477.2" y1="301.0" x2="2486.4" y2="301.0" stroke="#555" stroke-width="1.0" opacity="0.9"/>
<line x1="2493.4" y1="301.0" x2="2503.4" y2="301.0" stroke="#555" stroke-width="1.0" opacity="0.9"/>
<line x1="2284.0" y1="309.0" x2="2287.0" y2="309.0" stroke="#777" stroke-width="0.8" opacity="1"/>
<line x1="2305.0" y1="309.0" x2="2316.0" y2="309.0" stroke="#4E90E8" stroke-width="0.8" opacity="1"/>
<line x1="2325.0" y1="309.0" x2="2358.0" y2="309.0" stroke="#888" stroke-width="0.8" opacity="1"/>
<line x1="2368.0" y1="309.0" x2="2372.0" y2="309.0" stroke="#999" stroke-width="0.8" opacity="1"/>
<line x1="2391.0" y1="309.0" x2="2407.0" y2="309.0" stroke="#999" stroke-width="0.8" opacity="1"/>
<line x1="2410.0" y1="309.0" x2="2426.0" y2="309.0" stroke="#999" stroke-width="0.8" opacity="1"/>
<line x1="2432.0" y1="309.0" x2="2448.0" y2="309.0" stroke="#999" stroke-width="0.8" opacity="1"/>
<line x1="2455.0" y1="309.0" x2="2471.0" y2="309.0" stroke="#999" stroke-width="0.8" opacity="1"/>
<line x1="2477.0" y1="309.0" x2="2481.0" y2="309.0" stroke="#999" stroke-width="0.8" opacity="1"/>
<line x1="2494.0" y1="309.0" x2="2509.0" y2="309.0" stroke="#4E90E8" stroke-width="0.8" opacity="1"/>
<line x1="2494.0" y1="312.3" x2="2509.0" y2="312.3" stroke="#4E90E8" stroke-width="0.8" opacity="1"/>
<line x1="2494.0" y1="315.6" x2="2509.0" y2="315.6" stroke="#4E90E8" stroke-width="0.8" opacity="1"/>
<line x1="2494.0" y1="318.9" x2="2509.0" y2="318.9" stroke="#4E90E8" stroke-width="0.8" opacity="1"/>
<line x1="2284.0" y1="326.5" x2="2287.0" y2="326.5" stroke="#777" stroke-width="0.8" opacity="1"/>
<line x1="2305.0" y1="326.5" x2="2316.0" y2="326.5" stroke="#4E90E8" stroke-width="0.8" opacity="1"/>
<line x1="2325.0" y1="326.5" x2="2358.0" y2="326.5" stroke="#888" stroke-width="0.8" opacity="1"/>
<line x1="2368.0" y1="326.5" x2="2372.0" y2="326.5" stroke="#999" stroke-width="0.8" opacity="1"/>
<line x1="2391.0" y1="326.5" x2="2407.0" y2="326.5" stroke="#999" stroke-width="0.8" opacity="1"/>
<line x1="2410.0" y1="326.5" x2="2426.0" y2="326.5" stroke="#999" stroke-width="0.8" opacity="1"/>
<line x1="2432.0" y1="326.5" x2="2448.0" y2="326.5" stroke="#999" stroke-width="0.8" opacity="1"/>
<line x1="2455.0" y1="326.5" x2="2471.0" y2="326.5" stroke="#999" stroke-width="0.8" opacity="1"/>
<line x1="2477.0" y1="326.5" x2="2481.0" y2="326.5" stroke="#999" stroke-width="0.8" opacity="1"/>
<line x1="2494.0" y1="326.5" x2="2509.0" y2="326.5" stroke="#4E90E8" stroke-width="0.8" opacity="1"/>
<line x1="2494.0" y1="329.8" x2="2509.0" y2="329.8" stroke="#4E90E8" stroke-width="0.8" opacity="1"/>
<line x1="2494.0" y1="333.1" x2="2509.0" y2="333.1" stroke="#4E90E8" stroke-width="0.8" opacity="1"/>
<line x1="2494.0" y1="336.4" x2="2509.0" y2="336.4" stroke="#4E90E8" stroke-width="0.8" opacity="1"/>
<line x1="2284.0" y1="344.5" x2="2287.0" y2="344.5" stroke="#777" stroke-width="0.8" opacity="1"/>
<line x1="2305.0" y1="344.5" x2="2316.0" y2="344.5" stroke="#4E90E8" stroke-width="0.8" opacity="1"/>
<line x1="2325.0" y1="344.5" x2="2358.0" y2="344.5" stroke="#888" stroke-width="0.8" opacity="1"/>
<line x1="2368.0" y1="344.5" x2="2372.0" y2="344.5" stroke="#999" stroke-width="0.8" opacity="1"/>
<line x1="2391.0" y1="344.5" x2="2407.0" y2="344.5" stroke="#999" stroke-width="0.8" opacity="1"/>
<line x1="2410.0" y1="344.5" x2="2426.0" y2="344.5" stroke="#999" stroke-width="0.8" opacity="1"/>
<line x1="2432.0" y1="344.5" x2="2448.0" y2="344.5" stroke="#999" stroke-width="0.8" opacity="1"/>
<line x1="2455.0" y1="344.5" x2="2471.0" y2="344.5" stroke="#999" stroke-width="0.8" opacity="1"/>
<line x1="2477.0" y1="344.5" x2="2481.0" y2="344.5" stroke="#999" stroke-width="0.8" opacity="1"/>
<line x1="2494.0" y1="344.5" x2="2509.0" y2="344.5" stroke="#4E90E8" stroke-width="0.8" opacity="1"/>
<line x1="2494.0" y1="347.8" x2="2509.0" y2="347.8" stroke="#4E90E8" stroke-width="0.8" opacity="1"/>
<line x1="2494.0" y1="351.1" x2="2509.0" y2="351.1" stroke="#4E90E8" stroke-width="0.8" opacity="1"/>
<line x1="2494.0" y1="354.4" x2="2509.0" y2="354.4" stroke="#4E90E8" stroke-width="0.8" opacity="1"/>
<polygon points="1733.4,1308.2 1757.9,1308.2 1782.9,1336.3 1757.9,1364.7 1733.4,1364.7 1758.1,1336.3" fill="#8FAADC"/>
<polygon points="1789.3000000000002,1308.2 1813.8000000000002,1308.2 1838.8000000000002,1336.3 1813.8000000000002,1364.7 1789.3000000000002,1364.7 1814.0,1336.3" fill="#8FAADC"/>
</svg></body></html>
